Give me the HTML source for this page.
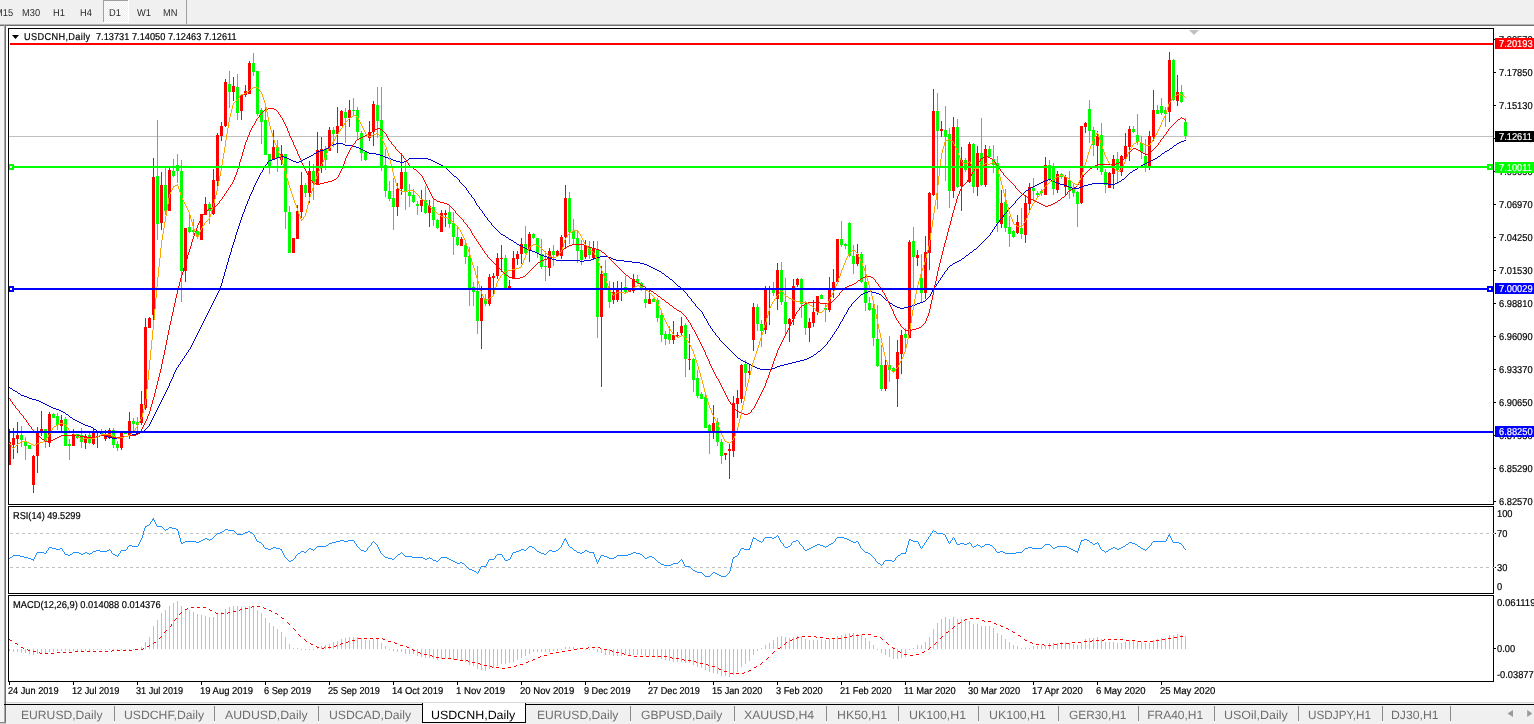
<!DOCTYPE html><html><head><meta charset="utf-8"><title>USDCNH,Daily</title><style>
html,body{margin:0;padding:0;background:#fff}
body{width:1534px;height:724px;position:relative;overflow:hidden;font-family:"Liberation Sans",sans-serif;color:#000}
.t{position:absolute;white-space:nowrap;line-height:1}
.t,.lb span{transform-origin:0 0;transform:scaleX(.92);-webkit-text-stroke:0.2px currentColor;text-rendering:geometricPrecision}
.ax{font-size:10px;left:1498.8px;transform:scaleX(.93)}
.lb{position:absolute;left:1495px;width:39px;height:11px;}
.lb span{position:absolute;left:3.8px;top:2px;font-size:10px;transform:scaleX(.93);line-height:1;color:#fff;white-space:nowrap}
.dt{font-size:10px;top:687px;transform:scaleX(.91)}
.tb{font-size:10px;top:9px;color:#2a2a2a;transform:scaleX(.93);-webkit-text-stroke:0}
.tab{font-size:12px;top:709px;color:#6e6e6e;transform:none;-webkit-text-stroke:0}
.sep{position:absolute;top:706px;width:1px;height:15px;background:#8a8a8a}
</style></head><body>
<div style="position:absolute;left:0;top:0;width:1534px;height:24px;background:#f0f0f0"></div>
<div style="position:absolute;left:0;top:24px;width:1534px;height:1px;background:#b4b4b4"></div>
<div style="position:absolute;left:0;top:25px;width:1534px;height:1px;background:#6e6e6e"></div>
<div style="position:absolute;left:0;top:26px;width:4px;height:698px;background:#f5f5f5"></div>
<div style="position:absolute;left:4px;top:25px;width:1px;height:697px;background:#a8a8a8"></div>
<div style="position:absolute;left:5px;top:25px;width:1px;height:697px;background:#6e6e6e"></div>
<div style="position:absolute;left:0;top:722px;width:6px;height:1px;background:#8c8c8c"></div>
<div style="position:absolute;left:0;top:723px;width:6px;height:1px;background:#c8c8c8"></div>
<div style="position:absolute;left:103px;top:0;width:26px;height:23px;background:#fff"></div>
<div style="position:absolute;left:103px;top:0;width:25px;height:22px;background-color:#f0f0f0;background-image:repeating-conic-gradient(#ffffff 0 25%,#ececec 0 50%);background-size:2px 2px;border-left:1px solid #a0a0a0;border-top:1px solid #a0a0a0;box-sizing:border-box"></div>
<div style="position:absolute;left:186px;top:0;width:1px;height:24px;background:#a0a0a0"></div>
<span class="t tb" style="left:-5px">M15</span>
<span class="t tb" style="left:22px">M30</span>
<span class="t tb" style="left:53px">H1</span>
<span class="t tb" style="left:80px">H4</span>
<span class="t tb" style="left:109px">D1</span>
<span class="t tb" style="left:137px">W1</span>
<span class="t tb" style="left:163px">MN</span>
<svg width="1534" height="724" viewBox="0 0 1534 724" style="position:absolute;left:0;top:0"><g shape-rendering="crispEdges"><rect x="9" y="136" width="1484" height="1" fill="#c0c0c0"/><path fill="#ff0000" d="M9 429h1v36h-1zM13 428h1v31h-1zM17 422h1v31h-1zM33 455h1v38h-1zM37 427h1v46h-1zM41 411h1v25h-1zM49 412h1v35h-1zM61 415h1v18h-1zM73 429h1v17h-1zM85 434h1v15h-1zM93 428h1v17h-1zM97 431h1v17h-1zM105 430h1v11h-1zM109 428h1v11h-1zM121 432h1v18h-1zM129 412h1v27h-1zM141 391h1v34h-1zM145 318h1v92h-1zM149 317h1v11h-1zM153 158h1v166h-1zM161 172h1v58h-1zM169 168h1v43h-1zM185 228h1v54h-1zM201 214h1v26h-1zM205 197h1v18h-1zM213 169h1v46h-1zM217 133h1v54h-1zM221 122h1v19h-1zM225 79h1v48h-1zM233 77h1v24h-1zM241 94h1v26h-1zM245 85h1v12h-1zM249 61h1v33h-1zM273 130h1v30h-1zM281 145h1v20h-1zM293 238h1v15h-1zM297 205h1v34h-1zM301 172h1v46h-1zM309 161h1v42h-1zM317 132h1v53h-1zM321 137h1v36h-1zM329 127h1v24h-1zM337 107h1v46h-1zM341 110h1v16h-1zM349 100h1v27h-1zM369 121h1v20h-1zM373 101h1v45h-1zM397 183h1v33h-1zM401 153h1v42h-1zM421 190h1v22h-1zM429 200h1v27h-1zM441 210h1v22h-1zM445 210h1v17h-1zM461 237h1v9h-1zM481 286h1v63h-1zM489 274h1v32h-1zM493 273h1v23h-1zM497 253h1v26h-1zM501 245h1v27h-1zM509 280h1v8h-1zM513 251h1v28h-1zM517 251h1v14h-1zM521 238h1v26h-1zM529 232h1v30h-1zM549 248h1v28h-1zM557 250h1v7h-1zM561 235h1v24h-1zM565 185h1v64h-1zM585 240h1v19h-1zM593 241h1v19h-1zM601 266h1v121h-1zM613 282h1v22h-1zM617 281h1v21h-1zM621 282h1v19h-1zM629 289h1v3h-1zM633 274h1v19h-1zM649 291h1v13h-1zM673 321h1v23h-1zM677 332h1v6h-1zM681 317h1v18h-1zM689 334h1v36h-1zM713 405h1v34h-1zM725 453h1v7h-1zM729 444h1v35h-1zM733 396h1v61h-1zM737 390h1v28h-1zM741 364h1v39h-1zM749 365h1v10h-1zM753 303h1v48h-1zM765 286h1v48h-1zM769 286h1v39h-1zM777 263h1v47h-1zM789 318h1v24h-1zM793 279h1v46h-1zM797 278h1v9h-1zM809 318h1v24h-1zM813 300h1v27h-1zM817 296h1v19h-1zM829 277h1v35h-1zM833 269h1v29h-1zM837 239h1v43h-1zM857 244h1v22h-1zM885 356h1v35h-1zM897 340h1v67h-1zM901 330h1v44h-1zM909 240h1v98h-1zM917 250h1v16h-1zM925 236h1v63h-1zM929 192h1v78h-1zM933 89h1v107h-1zM941 121h1v16h-1zM953 117h1v81h-1zM961 147h1v64h-1zM969 142h1v41h-1zM977 146h1v50h-1zM985 145h1v42h-1zM1001 190h1v38h-1zM1017 215h1v19h-1zM1025 195h1v48h-1zM1029 183h1v27h-1zM1045 157h1v38h-1zM1057 171h1v22h-1zM1065 175h1v20h-1zM1081 126h1v78h-1zM1085 122h1v11h-1zM1097 131h1v39h-1zM1109 172h1v16h-1zM1113 155h1v34h-1zM1121 155h1v21h-1zM1125 133h1v26h-1zM1129 126h1v35h-1zM1149 131h1v39h-1zM1153 90h1v51h-1zM1169 52h1v70h-1zM1177 75h1v31h-1zM8 442h3v23h-3zM12 438h3v7h-3zM16 435h3v4h-3zM32 456h3v29h-3zM36 432h3v24h-3zM40 429h3v3h-3zM48 414h3v29h-3zM60 420h3v6h-3zM72 434h3v12h-3zM84 436h3v7h-3zM92 433h3v11h-3zM96 432h3v1h-3zM104 434h3v5h-3zM108 430h3v6h-3zM120 432h3v16h-3zM128 421h3v14h-3zM140 404h3v19h-3zM144 327h3v81h-3zM148 318h3v10h-3zM152 177h3v138h-3zM160 185h3v38h-3zM168 170h3v41h-3zM184 228h3v43h-3zM200 214h3v26h-3zM204 204h3v11h-3zM212 180h3v34h-3zM216 135h3v46h-3zM220 126h3v10h-3zM224 82h3v44h-3zM232 86h3v6h-3zM240 95h3v16h-3zM244 91h3v4h-3zM248 63h3v31h-3zM272 147h3v12h-3zM280 154h3v6h-3zM292 238h3v15h-3zM296 211h3v28h-3zM300 185h3v27h-3zM308 171h3v22h-3zM316 150h3v35h-3zM320 149h3v18h-3zM328 130h3v21h-3zM336 126h3v8h-3zM340 111h3v15h-3zM348 110h3v8h-3zM368 132h3v6h-3zM372 104h3v28h-3zM396 189h3v18h-3zM400 172h3v17h-3zM420 200h3v6h-3zM428 206h3v7h-3zM440 213h3v19h-3zM444 213h3v2h-3zM460 239h3v7h-3zM480 298h3v23h-3zM488 277h3v27h-3zM492 276h3v2h-3zM496 258h3v18h-3zM500 258h3v1h-3zM508 286h3v2h-3zM512 258h3v21h-3zM516 254h3v5h-3zM520 244h3v10h-3zM528 234h3v16h-3zM548 251h3v17h-3zM556 251h3v5h-3zM560 237h3v19h-3zM564 198h3v39h-3zM584 246h3v11h-3zM592 249h3v9h-3zM600 274h3v43h-3zM612 292h3v8h-3zM616 290h3v10h-3zM620 288h3v2h-3zM628 290h3v2h-3zM632 279h3v12h-3zM648 299h3v5h-3zM672 335h3v5h-3zM676 335h3v1h-3zM680 326h3v7h-3zM688 359h3v1h-3zM712 423h3v9h-3zM724 453h3v2h-3zM728 449h3v2h-3zM732 403h3v48h-3zM736 398h3v6h-3zM740 365h3v34h-3zM748 371h3v2h-3zM752 307h3v33h-3zM764 289h3v41h-3zM768 289h3v1h-3zM776 270h3v29h-3zM788 319h3v5h-3zM792 286h3v33h-3zM796 279h3v6h-3zM808 322h3v6h-3zM812 312h3v11h-3zM816 296h3v16h-3zM828 290h3v20h-3zM832 282h3v8h-3zM836 239h3v43h-3zM856 254h3v10h-3zM884 365h3v24h-3zM896 352h3v27h-3zM900 335h3v19h-3zM908 242h3v96h-3zM916 255h3v3h-3zM924 252h3v41h-3zM928 193h3v60h-3zM932 111h3v84h-3zM940 129h3v2h-3zM952 127h3v64h-3zM960 160h3v26h-3zM968 144h3v38h-3zM976 153h3v34h-3zM984 149h3v36h-3zM1000 203h3v21h-3zM1016 222h3v11h-3zM1024 203h3v32h-3zM1028 187h3v17h-3zM1044 165h3v30h-3zM1056 174h3v16h-3zM1064 177h3v10h-3zM1080 126h3v77h-3zM1084 123h3v4h-3zM1096 136h3v10h-3zM1108 173h3v15h-3zM1112 159h3v15h-3zM1120 156h3v16h-3zM1124 146h3v12h-3zM1128 129h3v18h-3zM1148 136h3v30h-3zM1152 110h3v27h-3zM1168 60h3v52h-3zM1176 92h3v9h-3z"/><path fill="#00ff00" d="M21 426h1v21h-1zM25 437h1v23h-1zM29 445h1v4h-1zM45 429h1v19h-1zM53 413h1v5h-1zM57 413h1v17h-1zM65 417h1v29h-1zM69 439h1v21h-1zM77 434h1v5h-1zM81 428h1v20h-1zM89 431h1v13h-1zM101 429h1v6h-1zM113 428h1v20h-1zM117 441h1v10h-1zM125 432h1v2h-1zM133 418h1v14h-1zM137 417h1v14h-1zM157 120h1v120h-1zM165 167h1v48h-1zM173 159h1v18h-1zM177 154h1v29h-1zM181 160h1v142h-1zM189 213h1v20h-1zM193 219h1v16h-1zM197 230h1v9h-1zM209 202h1v22h-1zM229 71h1v37h-1zM237 74h1v46h-1zM253 53h1v23h-1zM257 71h1v45h-1zM261 108h1v36h-1zM265 107h1v48h-1zM269 154h1v20h-1zM277 140h1v32h-1zM285 154h1v75h-1zM289 206h1v47h-1zM305 183h1v14h-1zM313 164h1v36h-1zM325 146h1v24h-1zM333 127h1v20h-1zM345 108h1v35h-1zM353 98h1v18h-1zM357 107h1v32h-1zM361 131h1v30h-1zM365 152h1v9h-1zM377 87h1v51h-1zM381 87h1v84h-1zM385 149h1v48h-1zM389 181h1v20h-1zM393 178h1v52h-1zM405 161h1v49h-1zM409 184h1v23h-1zM413 189h1v14h-1zM417 201h1v14h-1zM425 186h1v28h-1zM433 199h1v27h-1zM437 219h1v10h-1zM449 206h1v22h-1zM453 212h1v43h-1zM457 227h1v19h-1zM465 242h1v22h-1zM469 247h1v59h-1zM473 282h1v24h-1zM477 266h1v68h-1zM485 294h1v12h-1zM505 255h1v33h-1zM525 226h1v28h-1zM533 233h1v6h-1zM537 238h1v20h-1zM541 239h1v30h-1zM545 251h1v30h-1zM553 245h1v21h-1zM569 192h1v52h-1zM573 219h1v25h-1zM577 230h1v33h-1zM581 240h1v25h-1zM589 241h1v18h-1zM597 241h1v97h-1zM605 260h1v30h-1zM609 281h1v27h-1zM625 276h1v18h-1zM637 275h1v9h-1zM641 282h1v9h-1zM645 290h1v18h-1zM653 298h1v4h-1zM657 298h1v24h-1zM661 311h1v31h-1zM665 331h1v14h-1zM669 326h1v18h-1zM685 323h1v54h-1zM693 358h1v34h-1zM697 370h1v28h-1zM701 392h1v7h-1zM705 394h1v34h-1zM709 424h1v30h-1zM717 418h1v28h-1zM721 439h1v25h-1zM745 360h1v27h-1zM757 304h1v27h-1zM761 320h1v27h-1zM773 282h1v14h-1zM781 262h1v43h-1zM785 278h1v57h-1zM801 278h1v40h-1zM805 301h1v34h-1zM821 294h1v5h-1zM825 304h1v18h-1zM841 221h1v26h-1zM845 243h1v6h-1zM849 222h1v35h-1zM853 245h1v29h-1zM861 252h1v31h-1zM865 265h1v46h-1zM869 297h1v14h-1zM873 302h1v44h-1zM877 305h1v62h-1zM881 345h1v46h-1zM889 336h1v46h-1zM893 367h1v6h-1zM905 328h1v23h-1zM913 227h1v61h-1zM921 254h1v48h-1zM937 93h1v116h-1zM945 106h1v75h-1zM949 128h1v80h-1zM957 119h1v69h-1zM965 158h1v14h-1zM973 143h1v50h-1zM981 118h1v68h-1zM989 146h1v12h-1zM993 145h1v28h-1zM997 156h1v76h-1zM1005 189h1v43h-1zM1009 216h1v31h-1zM1013 230h1v8h-1zM1021 208h1v31h-1zM1033 178h1v22h-1zM1037 191h1v7h-1zM1041 189h1v7h-1zM1049 160h1v21h-1zM1053 163h1v32h-1zM1061 173h1v6h-1zM1069 171h1v28h-1zM1073 183h1v14h-1zM1077 191h1v36h-1zM1089 100h1v43h-1zM1093 127h1v29h-1zM1101 123h1v52h-1zM1105 169h1v24h-1zM1117 152h1v32h-1zM1133 126h1v7h-1zM1137 114h1v31h-1zM1141 136h1v23h-1zM1145 139h1v33h-1zM1157 105h1v9h-1zM1161 98h1v17h-1zM1165 107h1v20h-1zM1173 59h1v42h-1zM1181 85h1v18h-1zM1185 118h1v21h-1zM20 435h3v5h-3zM24 441h3v5h-3zM28 445h3v4h-3zM44 429h3v12h-3zM52 414h3v4h-3zM56 416h3v9h-3zM64 419h3v27h-3zM68 444h3v2h-3zM76 434h3v4h-3zM80 435h3v7h-3zM88 435h3v8h-3zM100 432h3v2h-3zM112 430h3v15h-3zM116 444h3v4h-3zM124 432h3v2h-3zM132 421h3v3h-3zM136 422h3v3h-3zM156 176h3v48h-3zM164 185h3v26h-3zM172 171h3v5h-3zM176 165h3v6h-3zM180 171h3v100h-3zM188 227h3v5h-3zM192 230h3v2h-3zM196 231h3v6h-3zM208 204h3v7h-3zM228 84h3v8h-3zM236 87h3v26h-3zM252 63h3v9h-3zM256 71h3v43h-3zM260 110h3v12h-3zM264 120h3v35h-3zM268 154h3v12h-3zM276 147h3v11h-3zM284 154h3v58h-3zM288 212h3v41h-3zM304 185h3v8h-3zM312 171h3v11h-3zM324 149h3v11h-3zM332 130h3v4h-3zM344 112h3v6h-3zM352 110h3v1h-3zM356 110h3v22h-3zM360 133h3v20h-3zM364 152h3v8h-3zM376 105h3v16h-3zM380 120h3v46h-3zM384 165h3v26h-3zM388 191h3v8h-3zM392 198h3v9h-3zM404 172h3v20h-3zM408 192h3v4h-3zM412 195h3v7h-3zM416 204h3v2h-3zM424 200h3v13h-3zM432 207h3v13h-3zM436 220h3v8h-3zM448 212h3v12h-3zM452 223h3v14h-3zM456 237h3v8h-3zM464 245h3v12h-3zM468 256h3v34h-3zM472 287h3v5h-3zM476 291h3v30h-3zM484 299h3v5h-3zM504 258h3v30h-3zM524 244h3v9h-3zM532 234h3v4h-3zM536 238h3v15h-3zM540 254h3v13h-3zM544 266h3v1h-3zM552 251h3v4h-3zM568 198h3v34h-3zM572 231h3v8h-3zM576 238h3v13h-3zM580 250h3v10h-3zM588 247h3v8h-3zM596 249h3v68h-3zM604 273h3v15h-3zM608 288h3v14h-3zM624 287h3v5h-3zM636 279h3v4h-3zM640 283h3v5h-3zM644 299h3v4h-3zM652 299h3v3h-3zM656 300h3v18h-3zM660 315h3v20h-3zM664 334h3v5h-3zM668 334h3v6h-3zM684 325h3v34h-3zM692 359h3v21h-3zM696 378h3v18h-3zM700 394h3v5h-3zM704 397h3v31h-3zM708 425h3v6h-3zM716 422h3v20h-3zM720 442h3v14h-3zM744 364h3v9h-3zM756 307h3v17h-3zM760 324h3v7h-3zM772 289h3v4h-3zM780 270h3v32h-3zM784 302h3v22h-3zM800 279h3v25h-3zM804 304h3v24h-3zM820 295h3v4h-3zM824 308h3v2h-3zM840 239h3v6h-3zM844 244h3v2h-3zM848 223h3v33h-3zM852 256h3v8h-3zM860 254h3v28h-3zM864 282h3v21h-3zM868 303h3v7h-3zM872 308h3v30h-3zM876 339h3v27h-3zM880 365h3v24h-3zM888 365h3v5h-3zM892 368h3v4h-3zM904 334h3v4h-3zM912 241h3v16h-3zM920 278h3v15h-3zM936 111h3v20h-3zM944 130h3v7h-3zM948 134h3v57h-3zM956 127h3v60h-3zM964 160h3v10h-3zM972 144h3v43h-3zM980 153h3v32h-3zM988 149h3v8h-3zM992 159h3v6h-3zM996 163h3v60h-3zM1004 202h3v26h-3zM1008 227h3v7h-3zM1012 231h3v6h-3zM1020 228h3v6h-3zM1032 188h3v3h-3zM1036 193h3v2h-3zM1040 191h3v2h-3zM1048 165h3v15h-3zM1052 167h3v22h-3zM1060 174h3v3h-3zM1068 180h3v10h-3zM1072 188h3v5h-3zM1076 192h3v12h-3zM1088 109h3v22h-3zM1092 130h3v15h-3zM1100 135h3v37h-3zM1104 172h3v13h-3zM1116 159h3v11h-3zM1132 129h3v3h-3zM1136 135h3v7h-3zM1140 143h3v9h-3zM1144 156h3v10h-3zM1156 110h3v4h-3zM1160 106h3v7h-3zM1164 110h3v4h-3zM1172 60h3v40h-3zM1180 92h3v10h-3zM1184 122h3v14h-3z"/></g><g shape-rendering="crispEdges"><path fill="#0000cd" d="M1184 140h2v1h-2zM1181 141h3v1h-3zM1179 142h2v1h-2zM336 143h7v1h-7zM1177 143h2v1h-2zM333 144h3v1h-3zM343 144h2v1h-2zM1176 144h1v1h-1zM331 145h2v1h-2zM345 145h7v1h-7zM1174 145h2v1h-2zM329 146h2v1h-2zM352 146h4v1h-4zM1173 146h1v1h-1zM328 147h1v1h-1zM356 147h3v1h-3zM1172 147h1v1h-1zM326 148h2v1h-2zM359 148h2v1h-2zM1170 148h2v1h-2zM324 149h2v1h-2zM361 149h2v1h-2zM1169 149h1v1h-1zM320 150h4v1h-4zM363 150h2v1h-2zM1167 150h2v1h-2zM317 151h3v1h-3zM365 151h2v1h-2zM1165 151h2v1h-2zM316 152h1v1h-1zM367 152h2v1h-2zM1164 152h1v1h-1zM314 153h2v1h-2zM369 153h7v1h-7zM1162 153h2v1h-2zM313 154h1v1h-1zM376 154h4v1h-4zM1161 154h1v1h-1zM311 155h2v1h-2zM380 155h3v1h-3zM1160 155h1v1h-1zM280 156h4v1h-4zM309 156h2v1h-2zM383 156h2v1h-2zM1158 156h2v1h-2zM277 157h3v1h-3zM284 157h3v1h-3zM307 157h2v1h-2zM385 157h3v1h-3zM1157 157h1v1h-1zM275 158h2v1h-2zM287 158h2v1h-2zM305 158h2v1h-2zM388 158h3v1h-3zM409 158h19v1h-19zM1155 158h2v1h-2zM272 159h3v1h-3zM289 159h2v1h-2zM303 159h2v1h-2zM391 159h2v1h-2zM408 159h1v1h-1zM428 159h3v1h-3zM1153 159h2v1h-2zM269 160h3v1h-3zM291 160h2v1h-2zM301 160h2v1h-2zM393 160h3v1h-3zM406 160h2v1h-2zM431 160h2v1h-2zM1151 160h2v1h-2zM268 161h1v1h-1zM293 161h3v1h-3zM299 161h2v1h-2zM396 161h4v1h-4zM404 161h2v1h-2zM433 161h2v1h-2zM1149 161h2v1h-2zM267 162h1v2h-1zM296 162h3v1h-3zM400 162h4v1h-4zM435 162h2v1h-2zM1147 162h2v1h-2zM437 163h2v1h-2zM1145 163h2v1h-2zM266 164h1v1h-1zM439 164h2v1h-2zM1143 164h2v1h-2zM265 165h1v1h-1zM441 165h2v1h-2zM1141 165h2v1h-2zM264 166h1v2h-1zM443 166h2v1h-2zM1140 166h1v1h-1zM445 167h1v1h-1zM1138 167h2v1h-2zM263 168h1v2h-1zM446 168h1v1h-1zM1137 168h1v1h-1zM447 169h1v1h-1zM1135 169h2v1h-2zM262 170h1v2h-1zM448 170h1v1h-1zM1133 170h2v1h-2zM449 171h1v1h-1zM1132 171h1v1h-1zM261 172h1v1h-1zM450 172h1v1h-1zM1130 172h2v1h-2zM260 173h1v2h-1zM451 173h1v1h-1zM1129 173h1v1h-1zM452 174h1v1h-1zM1128 174h1v1h-1zM259 175h1v2h-1zM453 175h1v1h-1zM1127 175h1v1h-1zM454 176h2v1h-2zM1126 176h1v1h-1zM258 177h1v2h-1zM456 177h1v1h-1zM1125 177h1v1h-1zM457 178h1v1h-1zM1124 178h1v1h-1zM257 179h1v2h-1zM458 179h1v1h-1zM1048 179h3v1h-3zM1122 179h2v1h-2zM459 180h1v2h-1zM1045 180h3v1h-3zM1051 180h2v1h-2zM1121 180h1v1h-1zM256 181h1v2h-1zM1043 181h2v1h-2zM1053 181h2v1h-2zM1119 181h2v1h-2zM460 182h1v1h-1zM1041 182h2v1h-2zM1055 182h2v1h-2zM1117 182h2v1h-2zM255 183h1v2h-1zM461 183h1v1h-1zM1039 183h2v1h-2zM1057 183h3v1h-3zM1092 183h16v1h-16zM1115 183h2v1h-2zM462 184h1v1h-1zM1037 184h2v1h-2zM1060 184h4v1h-4zM1088 184h4v1h-4zM1108 184h7v1h-7zM254 185h1v2h-1zM463 185h1v1h-1zM1035 185h2v1h-2zM1064 185h3v1h-3zM1084 185h4v1h-4zM464 186h1v1h-1zM1033 186h2v1h-2zM1067 186h2v1h-2zM1081 186h3v1h-3zM253 187h1v3h-1zM465 187h1v1h-1zM1031 187h2v1h-2zM1069 187h3v1h-3zM1079 187h2v1h-2zM466 188h1v2h-1zM1029 188h2v1h-2zM1072 188h7v1h-7zM1028 189h1v1h-1zM252 190h1v2h-1zM467 190h1v1h-1zM1026 190h2v1h-2zM468 191h1v2h-1zM1025 191h1v1h-1zM251 192h1v2h-1zM1024 192h1v1h-1zM469 193h1v1h-1zM1023 193h1v1h-1zM250 194h1v2h-1zM470 194h1v1h-1zM1022 194h1v1h-1zM471 195h1v2h-1zM1021 195h1v1h-1zM249 196h1v3h-1zM1020 196h1v1h-1zM472 197h1v1h-1zM1019 197h1v1h-1zM473 198h1v1h-1zM1018 198h1v1h-1zM248 199h1v2h-1zM474 199h1v2h-1zM1017 199h1v1h-1zM1016 200h1v1h-1zM247 201h1v3h-1zM475 201h1v2h-1zM1015 201h1v2h-1zM476 203h1v2h-1zM1014 203h1v1h-1zM246 204h1v2h-1zM1013 204h1v1h-1zM477 205h1v1h-1zM1012 205h1v1h-1zM245 206h1v3h-1zM478 206h1v1h-1zM1011 206h1v1h-1zM479 207h1v2h-1zM1010 207h1v1h-1zM1009 208h1v1h-1zM244 209h1v3h-1zM480 209h1v1h-1zM1008 209h1v1h-1zM481 210h1v1h-1zM1007 210h1v2h-1zM482 211h1v2h-1zM243 212h1v2h-1zM1006 212h1v1h-1zM483 213h1v1h-1zM1005 213h1v1h-1zM242 214h1v3h-1zM484 214h1v2h-1zM1004 214h1v1h-1zM1003 215h1v2h-1zM485 216h1v1h-1zM241 217h1v3h-1zM486 217h1v1h-1zM1002 217h1v1h-1zM487 218h1v2h-1zM1001 218h1v1h-1zM1000 219h1v1h-1zM240 220h1v3h-1zM488 220h1v1h-1zM999 220h1v2h-1zM489 221h1v1h-1zM490 222h1v1h-1zM998 222h1v1h-1zM239 223h1v3h-1zM491 223h1v2h-1zM997 223h1v1h-1zM996 224h1v2h-1zM492 225h1v1h-1zM238 226h1v3h-1zM493 226h1v1h-1zM995 226h1v1h-1zM494 227h1v1h-1zM994 227h1v2h-1zM495 228h1v1h-1zM237 229h1v3h-1zM496 229h1v1h-1zM993 229h1v1h-1zM497 230h1v1h-1zM992 230h1v2h-1zM498 231h1v1h-1zM236 232h1v3h-1zM499 232h1v1h-1zM991 232h1v1h-1zM500 233h1v1h-1zM990 233h1v2h-1zM501 234h2v1h-2zM235 235h1v4h-1zM503 235h2v1h-2zM989 235h1v1h-1zM505 236h1v1h-1zM988 236h1v1h-1zM506 237h2v1h-2zM987 237h1v1h-1zM508 238h1v1h-1zM986 238h1v1h-1zM234 239h1v3h-1zM509 239h2v1h-2zM985 239h1v1h-1zM511 240h2v1h-2zM984 240h1v1h-1zM513 241h1v1h-1zM983 241h1v1h-1zM233 242h1v3h-1zM514 242h2v1h-2zM982 242h1v1h-1zM516 243h1v1h-1zM981 243h1v1h-1zM517 244h2v1h-2zM980 244h1v1h-1zM232 245h1v3h-1zM519 245h2v1h-2zM979 245h1v1h-1zM521 246h2v1h-2zM978 246h1v1h-1zM523 247h2v1h-2zM977 247h1v1h-1zM231 248h1v4h-1zM525 248h2v1h-2zM976 248h1v1h-1zM527 249h2v1h-2zM974 249h2v1h-2zM529 250h3v1h-3zM973 250h1v1h-1zM532 251h3v1h-3zM972 251h1v1h-1zM230 252h1v3h-1zM535 252h2v1h-2zM970 252h2v1h-2zM537 253h2v1h-2zM969 253h1v1h-1zM539 254h2v1h-2zM968 254h1v1h-1zM229 255h1v3h-1zM541 255h3v1h-3zM966 255h2v1h-2zM544 256h3v1h-3zM600 256h8v1h-8zM965 256h1v1h-1zM547 257h2v1h-2zM596 257h4v1h-4zM608 257h3v1h-3zM964 257h1v1h-1zM228 258h1v4h-1zM549 258h3v1h-3zM593 258h3v1h-3zM611 258h2v1h-2zM962 258h2v1h-2zM552 259h4v1h-4zM591 259h2v1h-2zM613 259h3v1h-3zM961 259h1v1h-1zM556 260h24v1h-24zM584 260h7v1h-7zM616 260h8v1h-8zM959 260h2v1h-2zM580 261h4v1h-4zM624 261h8v1h-8zM957 261h2v1h-2zM227 262h1v3h-1zM632 262h8v1h-8zM955 262h2v1h-2zM640 263h4v1h-4zM953 263h2v1h-2zM644 264h3v1h-3zM952 264h1v1h-1zM226 265h1v4h-1zM647 265h2v1h-2zM950 265h2v1h-2zM649 266h2v1h-2zM949 266h1v1h-1zM651 267h2v1h-2zM948 267h1v1h-1zM653 268h2v1h-2zM947 268h1v2h-1zM225 269h1v3h-1zM655 269h2v1h-2zM657 270h2v1h-2zM946 270h1v1h-1zM659 271h2v1h-2zM945 271h1v1h-1zM224 272h1v4h-1zM661 272h1v1h-1zM944 272h1v2h-1zM662 273h2v1h-2zM664 274h1v1h-1zM943 274h1v1h-1zM665 275h1v1h-1zM942 275h1v2h-1zM223 276h1v3h-1zM666 276h2v1h-2zM668 277h1v1h-1zM941 277h1v1h-1zM669 278h1v1h-1zM940 278h1v2h-1zM222 279h1v4h-1zM670 279h2v1h-2zM672 280h1v1h-1zM939 280h1v1h-1zM673 281h1v1h-1zM938 281h1v2h-1zM674 282h1v1h-1zM221 283h1v3h-1zM675 283h1v1h-1zM937 283h1v1h-1zM676 284h1v1h-1zM936 284h1v2h-1zM677 285h1v1h-1zM220 286h1v2h-1zM678 286h2v1h-2zM935 286h1v1h-1zM680 287h1v1h-1zM934 287h1v2h-1zM219 288h1v3h-1zM681 288h1v1h-1zM682 289h1v1h-1zM933 289h1v1h-1zM683 290h1v1h-1zM932 290h1v2h-1zM218 291h1v2h-1zM684 291h1v1h-1zM868 291h4v1h-4zM685 292h1v1h-1zM865 292h3v1h-3zM872 292h4v1h-4zM931 292h1v2h-1zM217 293h1v2h-1zM686 293h1v1h-1zM863 293h2v1h-2zM876 293h3v1h-3zM687 294h1v2h-1zM861 294h2v1h-2zM879 294h2v1h-2zM930 294h1v2h-1zM216 295h1v2h-1zM860 295h1v1h-1zM881 295h1v1h-1zM688 296h1v1h-1zM859 296h1v1h-1zM882 296h1v1h-1zM929 296h1v1h-1zM215 297h1v2h-1zM689 297h1v1h-1zM858 297h1v1h-1zM883 297h1v1h-1zM928 297h1v1h-1zM690 298h1v1h-1zM857 298h1v1h-1zM884 298h1v1h-1zM927 298h1v1h-1zM214 299h1v2h-1zM691 299h1v2h-1zM856 299h1v1h-1zM885 299h1v1h-1zM926 299h1v1h-1zM855 300h1v1h-1zM886 300h2v1h-2zM925 300h1v1h-1zM213 301h1v2h-1zM692 301h1v1h-1zM854 301h1v1h-1zM888 301h1v1h-1zM923 301h2v1h-2zM693 302h1v1h-1zM853 302h1v1h-1zM889 302h1v1h-1zM920 302h3v1h-3zM212 303h1v2h-1zM694 303h1v1h-1zM852 303h1v1h-1zM890 303h2v1h-2zM917 303h3v1h-3zM695 304h1v2h-1zM851 304h1v2h-1zM892 304h1v1h-1zM915 304h2v1h-2zM211 305h1v2h-1zM893 305h2v1h-2zM912 305h3v1h-3zM696 306h1v1h-1zM850 306h1v1h-1zM895 306h2v1h-2zM908 306h4v1h-4zM210 307h1v2h-1zM697 307h1v1h-1zM849 307h1v1h-1zM897 307h3v1h-3zM904 307h4v1h-4zM698 308h1v1h-1zM848 308h1v2h-1zM900 308h4v1h-4zM209 309h1v2h-1zM699 309h1v1h-1zM700 310h1v1h-1zM847 310h1v2h-1zM208 311h1v2h-1zM701 311h1v1h-1zM702 312h1v2h-1zM846 312h1v2h-1zM207 313h1v2h-1zM703 314h1v2h-1zM845 314h1v1h-1zM206 315h1v2h-1zM844 315h1v2h-1zM704 316h1v2h-1zM205 317h1v2h-1zM843 317h1v2h-1zM705 318h1v1h-1zM204 319h1v2h-1zM706 319h1v2h-1zM842 319h1v2h-1zM203 321h1v2h-1zM707 321h1v2h-1zM841 321h1v1h-1zM840 322h1v2h-1zM202 323h1v2h-1zM708 323h1v2h-1zM839 324h1v2h-1zM201 325h1v2h-1zM709 325h1v1h-1zM710 326h1v2h-1zM838 326h1v2h-1zM200 327h1v2h-1zM711 328h1v1h-1zM837 328h1v1h-1zM199 329h1v2h-1zM712 329h1v2h-1zM836 329h1v2h-1zM198 331h1v2h-1zM713 331h1v1h-1zM835 331h1v1h-1zM714 332h1v1h-1zM834 332h1v2h-1zM197 333h1v2h-1zM715 333h1v2h-1zM833 334h1v1h-1zM196 335h1v2h-1zM716 335h1v1h-1zM832 335h1v2h-1zM717 336h1v1h-1zM195 337h1v2h-1zM718 337h1v1h-1zM831 337h1v1h-1zM719 338h1v2h-1zM830 338h1v2h-1zM194 339h1v2h-1zM720 340h1v1h-1zM829 340h1v1h-1zM193 341h1v2h-1zM721 341h1v1h-1zM828 341h1v1h-1zM722 342h1v1h-1zM827 342h1v2h-1zM192 343h1v2h-1zM723 343h1v1h-1zM724 344h1v1h-1zM826 344h1v1h-1zM191 345h1v2h-1zM725 345h1v1h-1zM825 345h1v1h-1zM726 346h1v1h-1zM824 346h1v1h-1zM190 347h1v2h-1zM727 347h1v1h-1zM823 347h1v1h-1zM728 348h1v1h-1zM822 348h1v1h-1zM189 349h1v1h-1zM729 349h1v1h-1zM821 349h1v1h-1zM188 350h1v2h-1zM730 350h1v1h-1zM820 350h1v1h-1zM731 351h1v1h-1zM818 351h2v1h-2zM187 352h1v1h-1zM732 352h1v1h-1zM817 352h1v1h-1zM186 353h1v2h-1zM733 353h1v1h-1zM816 353h1v1h-1zM734 354h1v1h-1zM814 354h2v1h-2zM185 355h1v1h-1zM735 355h1v1h-1zM813 355h1v1h-1zM184 356h1v2h-1zM736 356h1v1h-1zM811 356h2v1h-2zM737 357h1v1h-1zM809 357h2v1h-2zM183 358h1v1h-1zM738 358h2v1h-2zM807 358h2v1h-2zM182 359h1v2h-1zM740 359h1v1h-1zM804 359h3v1h-3zM741 360h2v1h-2zM800 360h4v1h-4zM181 361h1v1h-1zM743 361h2v1h-2zM796 361h4v1h-4zM180 362h1v2h-1zM745 362h2v1h-2zM792 362h4v1h-4zM747 363h2v1h-2zM788 363h4v1h-4zM179 364h1v1h-1zM749 364h2v1h-2zM784 364h4v1h-4zM178 365h1v2h-1zM751 365h2v1h-2zM780 365h4v1h-4zM753 366h2v1h-2zM777 366h3v1h-3zM177 367h1v1h-1zM755 367h2v1h-2zM775 367h2v1h-2zM176 368h1v2h-1zM757 368h3v1h-3zM772 368h3v1h-3zM760 369h12v1h-12zM175 370h1v2h-1zM174 372h1v2h-1zM173 374h1v3h-1zM172 377h1v2h-1zM171 379h1v2h-1zM170 381h1v2h-1zM169 383h1v3h-1zM168 386h1v2h-1zM9 387h1v1h-1zM10 388h2v1h-2zM167 388h1v2h-1zM12 389h1v1h-1zM13 390h2v1h-2zM166 390h1v2h-1zM15 391h2v1h-2zM17 392h1v1h-1zM165 392h1v2h-1zM18 393h2v1h-2zM20 394h1v1h-1zM164 394h1v2h-1zM21 395h3v1h-3zM24 396h3v1h-3zM163 396h1v2h-1zM27 397h2v1h-2zM29 398h3v1h-3zM162 398h1v2h-1zM32 399h4v1h-4zM36 400h3v1h-3zM161 400h1v2h-1zM39 401h2v1h-2zM41 402h2v1h-2zM160 402h1v2h-1zM43 403h2v1h-2zM45 404h2v1h-2zM159 404h1v2h-1zM47 405h2v1h-2zM49 406h2v1h-2zM158 406h1v2h-1zM51 407h2v1h-2zM53 408h3v1h-3zM157 408h1v2h-1zM56 409h3v1h-3zM59 410h2v1h-2zM156 410h1v2h-1zM61 411h2v1h-2zM63 412h2v1h-2zM155 412h1v2h-1zM65 413h1v1h-1zM66 414h2v1h-2zM154 414h1v2h-1zM68 415h1v1h-1zM69 416h1v1h-1zM153 416h1v2h-1zM70 417h2v1h-2zM72 418h1v1h-1zM152 418h1v2h-1zM73 419h2v1h-2zM75 420h2v1h-2zM151 420h1v2h-1zM77 421h2v1h-2zM79 422h2v1h-2zM150 422h1v2h-1zM81 423h2v1h-2zM83 424h2v1h-2zM149 424h1v2h-1zM85 425h3v1h-3zM88 426h3v1h-3zM148 426h1v1h-1zM91 427h2v1h-2zM147 427h1v1h-1zM93 428h1v1h-1zM146 428h1v1h-1zM94 429h2v1h-2zM145 429h1v1h-1zM96 430h1v1h-1zM144 430h1v1h-1zM97 431h1v1h-1zM142 431h2v1h-2zM98 432h2v1h-2zM140 432h2v1h-2zM100 433h1v1h-1zM136 433h4v1h-4zM101 434h2v1h-2zM132 434h4v1h-4zM103 435h2v1h-2zM128 435h4v1h-4zM105 436h3v1h-3zM124 436h4v1h-4zM108 437h4v1h-4zM120 437h4v1h-4zM112 438h8v1h-8z"/><path fill="#ff0000" d="M268 108h6v1h-6zM265 109h3v1h-3zM274 109h2v1h-2zM264 110h1v1h-1zM276 110h1v1h-1zM263 111h1v1h-1zM277 111h1v1h-1zM262 112h1v1h-1zM278 112h1v2h-1zM261 113h1v1h-1zM260 114h1v1h-1zM279 114h1v1h-1zM259 115h1v2h-1zM280 115h1v2h-1zM258 117h1v1h-1zM281 117h1v1h-1zM1181 117h1v1h-1zM257 118h1v1h-1zM282 118h1v2h-1zM1180 118h1v1h-1zM1182 118h2v1h-2zM256 119h1v2h-1zM1178 119h2v1h-2zM1184 119h1v1h-1zM283 120h1v2h-1zM1177 120h1v1h-1zM1185 120h1v1h-1zM255 121h1v2h-1zM1176 121h1v1h-1zM284 122h1v2h-1zM1175 122h1v1h-1zM254 123h1v2h-1zM1174 123h1v1h-1zM285 124h1v2h-1zM1173 124h1v1h-1zM253 125h1v1h-1zM1172 125h1v1h-1zM252 126h1v2h-1zM286 126h1v2h-1zM1171 126h1v1h-1zM1170 127h1v1h-1zM251 128h1v2h-1zM287 128h1v3h-1zM377 128h3v1h-3zM1169 128h1v1h-1zM375 129h2v1h-2zM380 129h2v1h-2zM1168 129h1v2h-1zM250 130h1v2h-1zM373 130h2v1h-2zM382 130h1v1h-1zM288 131h1v2h-1zM372 131h1v1h-1zM383 131h1v1h-1zM1167 131h1v1h-1zM249 132h1v3h-1zM370 132h2v1h-2zM384 132h1v1h-1zM1166 132h1v2h-1zM289 133h1v3h-1zM369 133h1v1h-1zM385 133h1v1h-1zM367 134h2v1h-2zM386 134h1v2h-1zM1165 134h1v1h-1zM248 135h1v2h-1zM365 135h2v1h-2zM1164 135h1v1h-1zM290 136h1v2h-1zM363 136h2v1h-2zM387 136h1v2h-1zM1163 136h1v2h-1zM247 137h1v3h-1zM361 137h2v1h-2zM291 138h1v2h-1zM359 138h2v1h-2zM388 138h1v2h-1zM1162 138h1v1h-1zM357 139h2v1h-2zM1161 139h1v1h-1zM246 140h1v2h-1zM292 140h1v2h-1zM356 140h1v1h-1zM389 140h1v1h-1zM1160 140h1v2h-1zM355 141h1v2h-1zM390 141h1v1h-1zM245 142h1v3h-1zM293 142h1v3h-1zM391 142h1v2h-1zM1159 142h1v1h-1zM354 143h1v1h-1zM1158 143h1v2h-1zM353 144h1v1h-1zM392 144h1v1h-1zM244 145h1v4h-1zM294 145h1v2h-1zM352 145h1v2h-1zM393 145h1v1h-1zM1157 145h1v1h-1zM394 146h1v1h-1zM1156 146h1v1h-1zM295 147h1v2h-1zM351 147h1v1h-1zM395 147h1v2h-1zM1155 147h1v1h-1zM350 148h1v2h-1zM1133 148h3v1h-3zM1154 148h1v1h-1zM243 149h1v3h-1zM296 149h1v2h-1zM396 149h1v1h-1zM1132 149h1v1h-1zM1136 149h2v1h-2zM1153 149h1v1h-1zM349 150h1v2h-1zM397 150h1v1h-1zM1131 150h1v1h-1zM1138 150h2v1h-2zM1152 150h1v1h-1zM297 151h1v3h-1zM398 151h1v1h-1zM1130 151h1v1h-1zM1140 151h1v1h-1zM1151 151h1v1h-1zM242 152h1v4h-1zM348 152h1v2h-1zM399 152h1v1h-1zM1129 152h1v1h-1zM1141 152h2v1h-2zM1150 152h1v1h-1zM400 153h1v1h-1zM1128 153h1v1h-1zM1143 153h2v1h-2zM1148 153h2v1h-2zM298 154h1v2h-1zM347 154h1v2h-1zM401 154h1v1h-1zM1127 154h1v2h-1zM1145 154h3v1h-3zM402 155h1v1h-1zM241 156h1v3h-1zM299 156h1v2h-1zM346 156h1v2h-1zM403 156h1v2h-1zM985 156h3v1h-3zM1126 156h1v1h-1zM983 157h2v1h-2zM988 157h2v1h-2zM1125 157h1v1h-1zM300 158h1v2h-1zM345 158h1v3h-1zM404 158h1v1h-1zM981 158h2v1h-2zM990 158h2v1h-2zM1124 158h1v1h-1zM240 159h1v3h-1zM405 159h1v1h-1zM980 159h1v2h-1zM992 159h1v1h-1zM1123 159h1v1h-1zM301 160h1v3h-1zM406 160h1v2h-1zM993 160h1v1h-1zM1122 160h1v1h-1zM344 161h1v3h-1zM979 161h1v1h-1zM994 161h1v1h-1zM1121 161h1v1h-1zM239 162h1v4h-1zM407 162h1v1h-1zM978 162h1v2h-1zM995 162h1v2h-1zM1119 162h2v1h-2zM302 163h1v2h-1zM408 163h1v2h-1zM1116 163h3v1h-3zM343 164h1v2h-1zM977 164h1v1h-1zM996 164h1v1h-1zM1097 164h19v1h-19zM303 165h1v2h-1zM409 165h1v1h-1zM976 165h1v2h-1zM997 165h1v1h-1zM1095 165h2v1h-2zM238 166h1v3h-1zM342 166h1v3h-1zM410 166h2v1h-2zM998 166h1v2h-1zM1093 166h2v1h-2zM304 167h1v2h-1zM412 167h1v1h-1zM975 167h1v2h-1zM1092 167h1v1h-1zM413 168h1v1h-1zM999 168h1v1h-1zM1090 168h2v1h-2zM237 169h1v3h-1zM305 169h1v2h-1zM341 169h1v2h-1zM414 169h2v1h-2zM974 169h1v2h-1zM1000 169h1v2h-1zM1089 169h1v1h-1zM416 170h1v1h-1zM1088 170h1v1h-1zM306 171h1v2h-1zM340 171h1v2h-1zM417 171h1v1h-1zM973 171h1v1h-1zM1001 171h1v1h-1zM1087 171h1v1h-1zM236 172h1v3h-1zM418 172h1v1h-1zM972 172h1v2h-1zM1002 172h1v1h-1zM1086 172h1v1h-1zM307 173h1v2h-1zM339 173h1v2h-1zM419 173h1v1h-1zM1003 173h1v2h-1zM1085 173h1v1h-1zM420 174h1v1h-1zM971 174h1v2h-1zM1084 174h1v1h-1zM235 175h1v2h-1zM308 175h1v2h-1zM338 175h1v2h-1zM421 175h1v1h-1zM1004 175h1v1h-1zM1083 175h1v2h-1zM422 176h1v2h-1zM970 176h1v2h-1zM1005 176h1v1h-1zM234 177h1v3h-1zM309 177h1v1h-1zM337 177h1v1h-1zM1006 177h1v1h-1zM1082 177h1v1h-1zM310 178h1v2h-1zM336 178h1v1h-1zM423 178h1v2h-1zM969 178h1v1h-1zM1007 178h1v1h-1zM1081 178h1v1h-1zM334 179h2v1h-2zM968 179h1v1h-1zM1008 179h1v1h-1zM1080 179h1v2h-1zM233 180h1v2h-1zM311 180h1v1h-1zM332 180h2v1h-2zM424 180h1v2h-1zM967 180h1v2h-1zM1009 180h1v1h-1zM312 181h1v2h-1zM328 181h4v1h-4zM1010 181h1v1h-1zM1079 181h1v2h-1zM232 182h1v2h-1zM324 182h4v1h-4zM425 182h1v2h-1zM966 182h1v1h-1zM1011 182h1v1h-1zM313 183h3v1h-3zM320 183h4v1h-4zM965 183h1v1h-1zM1012 183h1v1h-1zM1078 183h1v2h-1zM231 184h1v1h-1zM316 184h4v1h-4zM426 184h1v2h-1zM964 184h1v1h-1zM1013 184h1v1h-1zM230 185h1v2h-1zM963 185h1v1h-1zM1014 185h1v1h-1zM1077 185h1v1h-1zM427 186h1v2h-1zM962 186h1v1h-1zM1015 186h1v2h-1zM1076 186h1v1h-1zM229 187h1v1h-1zM961 187h1v2h-1zM1074 187h2v1h-2zM228 188h1v2h-1zM428 188h1v2h-1zM1016 188h1v1h-1zM1073 188h1v1h-1zM960 189h1v2h-1zM1017 189h1v1h-1zM1071 189h2v1h-2zM227 190h1v1h-1zM429 190h1v2h-1zM1018 190h1v1h-1zM1069 190h2v1h-2zM226 191h1v2h-1zM959 191h1v3h-1zM1019 191h1v1h-1zM1068 191h1v1h-1zM430 192h1v2h-1zM1020 192h1v1h-1zM1067 192h1v2h-1zM225 193h1v1h-1zM1021 193h1v1h-1zM224 194h1v2h-1zM431 194h1v2h-1zM958 194h1v2h-1zM1022 194h2v1h-2zM1066 194h1v1h-1zM1024 195h1v1h-1zM1065 195h1v1h-1zM223 196h1v1h-1zM432 196h1v2h-1zM957 196h1v3h-1zM1025 196h2v1h-2zM1064 196h1v1h-1zM222 197h1v2h-1zM1027 197h2v1h-2zM1062 197h2v1h-2zM433 198h1v1h-1zM1029 198h2v1h-2zM1061 198h1v1h-1zM221 199h1v1h-1zM434 199h2v1h-2zM956 199h1v4h-1zM1031 199h2v1h-2zM1060 199h1v1h-1zM220 200h1v1h-1zM436 200h1v1h-1zM1033 200h2v1h-2zM1058 200h2v1h-2zM219 201h1v2h-1zM437 201h3v1h-3zM1035 201h2v1h-2zM1057 201h1v1h-1zM440 202h4v1h-4zM1037 202h2v1h-2zM1055 202h2v1h-2zM218 203h1v1h-1zM444 203h3v1h-3zM955 203h1v3h-1zM1039 203h2v1h-2zM1053 203h2v1h-2zM217 204h1v1h-1zM447 204h2v1h-2zM1041 204h2v1h-2zM1051 204h2v1h-2zM216 205h1v1h-1zM449 205h1v1h-1zM1043 205h2v1h-2zM1048 205h3v1h-3zM214 206h2v1h-2zM450 206h1v1h-1zM954 206h1v4h-1zM1045 206h3v1h-3zM212 207h2v1h-2zM451 207h1v1h-1zM209 208h3v1h-3zM452 208h1v1h-1zM208 209h1v1h-1zM453 209h1v1h-1zM206 210h2v1h-2zM454 210h1v1h-1zM953 210h1v3h-1zM205 211h1v1h-1zM455 211h1v2h-1zM204 212h1v2h-1zM456 213h1v1h-1zM952 213h1v4h-1zM203 214h1v1h-1zM457 214h1v1h-1zM202 215h1v2h-1zM458 215h1v1h-1zM459 216h1v1h-1zM201 217h1v2h-1zM460 217h1v1h-1zM951 217h1v4h-1zM461 218h1v1h-1zM200 219h1v2h-1zM462 219h1v1h-1zM463 220h1v2h-1zM199 221h1v2h-1zM950 221h1v4h-1zM464 222h1v1h-1zM198 223h1v2h-1zM465 223h1v1h-1zM466 224h1v1h-1zM197 225h1v3h-1zM467 225h1v2h-1zM949 225h1v3h-1zM468 227h1v1h-1zM196 228h1v3h-1zM469 228h1v1h-1zM948 228h1v4h-1zM470 229h1v2h-1zM195 231h1v2h-1zM471 231h1v2h-1zM947 232h1v4h-1zM194 233h1v3h-1zM472 233h1v2h-1zM473 235h1v1h-1zM193 236h1v3h-1zM474 236h1v2h-1zM946 236h1v4h-1zM475 238h1v1h-1zM192 239h1v3h-1zM476 239h1v2h-1zM945 240h1v3h-1zM477 241h1v1h-1zM191 242h1v4h-1zM478 242h1v2h-1zM944 243h1v4h-1zM479 244h1v1h-1zM572 244h12v1h-12zM480 245h1v2h-1zM569 245h3v1h-3zM584 245h3v1h-3zM190 246h1v3h-1zM567 246h2v1h-2zM587 246h2v1h-2zM481 247h1v1h-1zM565 247h2v1h-2zM589 247h3v1h-3zM943 247h1v4h-1zM482 248h1v2h-1zM564 248h1v1h-1zM592 248h4v1h-4zM189 249h1v3h-1zM563 249h1v1h-1zM596 249h3v1h-3zM483 250h1v1h-1zM562 250h1v1h-1zM599 250h2v1h-2zM484 251h1v2h-1zM561 251h1v1h-1zM601 251h1v1h-1zM942 251h1v4h-1zM188 252h1v3h-1zM560 252h1v1h-1zM602 252h2v1h-2zM485 253h1v1h-1zM559 253h1v2h-1zM604 253h1v1h-1zM486 254h1v1h-1zM605 254h1v1h-1zM187 255h1v4h-1zM487 255h1v2h-1zM558 255h1v1h-1zM606 255h1v1h-1zM941 255h1v4h-1zM556 256h2v1h-2zM607 256h1v1h-1zM488 257h1v1h-1zM549 257h7v1h-7zM608 257h1v1h-1zM489 258h1v1h-1zM547 258h2v1h-2zM609 258h1v1h-1zM186 259h1v3h-1zM490 259h1v1h-1zM544 259h3v1h-3zM610 259h1v1h-1zM940 259h1v4h-1zM491 260h1v1h-1zM541 260h3v1h-3zM611 260h1v1h-1zM492 261h1v1h-1zM540 261h1v1h-1zM612 261h1v1h-1zM185 262h1v3h-1zM493 262h1v1h-1zM538 262h2v1h-2zM613 262h1v1h-1zM494 263h1v1h-1zM537 263h1v1h-1zM614 263h1v1h-1zM939 263h1v4h-1zM495 264h1v1h-1zM536 264h1v1h-1zM615 264h1v1h-1zM184 265h1v3h-1zM496 265h1v1h-1zM535 265h1v1h-1zM616 265h1v1h-1zM497 266h1v1h-1zM534 266h1v1h-1zM617 266h1v1h-1zM498 267h1v1h-1zM533 267h1v1h-1zM618 267h1v1h-1zM938 267h1v4h-1zM183 268h1v4h-1zM499 268h1v1h-1zM532 268h1v1h-1zM619 268h1v1h-1zM500 269h1v1h-1zM531 269h1v1h-1zM620 269h1v1h-1zM501 270h1v1h-1zM530 270h1v1h-1zM621 270h1v1h-1zM502 271h1v1h-1zM529 271h1v1h-1zM622 271h1v1h-1zM937 271h1v5h-1zM182 272h1v3h-1zM503 272h1v1h-1zM528 272h1v1h-1zM623 272h1v1h-1zM504 273h1v1h-1zM527 273h1v1h-1zM624 273h1v1h-1zM505 274h1v1h-1zM526 274h1v1h-1zM625 274h1v1h-1zM181 275h1v3h-1zM506 275h2v1h-2zM525 275h1v1h-1zM626 275h2v1h-2zM508 276h1v1h-1zM523 276h2v1h-2zM628 276h1v1h-1zM865 276h6v1h-6zM936 276h1v5h-1zM509 277h3v1h-3zM520 277h3v1h-3zM629 277h1v1h-1zM863 277h2v1h-2zM871 277h2v1h-2zM180 278h1v4h-1zM512 278h8v1h-8zM630 278h2v1h-2zM861 278h2v1h-2zM873 278h1v1h-1zM632 279h1v1h-1zM860 279h1v1h-1zM874 279h1v1h-1zM633 280h2v1h-2zM858 280h2v1h-2zM875 280h1v2h-1zM635 281h2v1h-2zM857 281h1v1h-1zM935 281h1v4h-1zM179 282h1v4h-1zM637 282h1v1h-1zM856 282h1v1h-1zM876 282h1v1h-1zM638 283h2v1h-2zM854 283h2v1h-2zM877 283h1v1h-1zM640 284h1v1h-1zM852 284h2v1h-2zM878 284h1v2h-1zM641 285h2v1h-2zM849 285h3v1h-3zM934 285h1v5h-1zM178 286h1v4h-1zM643 286h2v1h-2zM847 286h2v1h-2zM879 286h1v1h-1zM645 287h1v1h-1zM845 287h2v1h-2zM880 287h1v2h-1zM646 288h2v1h-2zM844 288h1v1h-1zM648 289h1v1h-1zM843 289h1v1h-1zM881 289h1v1h-1zM177 290h1v4h-1zM649 290h2v1h-2zM842 290h1v1h-1zM882 290h1v2h-1zM933 290h1v5h-1zM651 291h2v1h-2zM841 291h1v1h-1zM653 292h1v1h-1zM840 292h1v1h-1zM883 292h1v1h-1zM654 293h2v1h-2zM839 293h1v2h-1zM884 293h1v2h-1zM176 294h1v4h-1zM656 294h1v1h-1zM657 295h1v1h-1zM838 295h1v1h-1zM885 295h1v2h-1zM932 295h1v5h-1zM658 296h2v1h-2zM837 296h1v1h-1zM660 297h1v1h-1zM836 297h1v1h-1zM886 297h1v2h-1zM175 298h1v5h-1zM661 298h1v1h-1zM835 298h1v1h-1zM662 299h2v1h-2zM834 299h1v1h-1zM887 299h1v2h-1zM664 300h1v1h-1zM833 300h1v1h-1zM931 300h1v4h-1zM665 301h1v1h-1zM832 301h1v1h-1zM888 301h1v2h-1zM666 302h2v1h-2zM808 302h12v1h-12zM830 302h2v1h-2zM174 303h1v4h-1zM668 303h1v1h-1zM805 303h3v1h-3zM820 303h10v1h-10zM889 303h1v2h-1zM669 304h1v1h-1zM804 304h1v1h-1zM930 304h1v5h-1zM670 305h2v1h-2zM802 305h2v1h-2zM890 305h1v2h-1zM672 306h1v1h-1zM801 306h1v1h-1zM173 307h1v5h-1zM673 307h1v1h-1zM800 307h1v1h-1zM891 307h1v2h-1zM674 308h2v1h-2zM799 308h1v2h-1zM676 309h1v1h-1zM892 309h1v2h-1zM929 309h1v4h-1zM677 310h2v1h-2zM798 310h1v1h-1zM679 311h2v1h-2zM797 311h1v1h-1zM893 311h1v3h-1zM172 312h1v4h-1zM681 312h1v1h-1zM796 312h1v2h-1zM682 313h1v1h-1zM928 313h1v3h-1zM683 314h1v1h-1zM795 314h1v2h-1zM894 314h1v2h-1zM684 315h1v1h-1zM171 316h1v5h-1zM685 316h1v1h-1zM794 316h1v2h-1zM895 316h1v2h-1zM927 316h1v2h-1zM686 317h1v2h-1zM793 318h1v2h-1zM896 318h1v2h-1zM926 318h1v3h-1zM687 319h1v1h-1zM688 320h1v2h-1zM792 320h1v2h-1zM897 320h1v1h-1zM170 321h1v4h-1zM898 321h1v2h-1zM925 321h1v2h-1zM689 322h1v1h-1zM791 322h1v2h-1zM690 323h1v2h-1zM899 323h1v1h-1zM924 323h1v1h-1zM790 324h1v2h-1zM900 324h1v2h-1zM923 324h1v1h-1zM169 325h1v5h-1zM691 325h1v2h-1zM922 325h1v1h-1zM789 326h1v2h-1zM901 326h1v1h-1zM921 326h1v1h-1zM692 327h1v2h-1zM902 327h1v1h-1zM919 327h2v1h-2zM788 328h1v2h-1zM903 328h1v1h-1zM916 328h3v1h-3zM693 329h1v1h-1zM904 329h1v1h-1zM912 329h4v1h-4zM168 330h1v5h-1zM694 330h1v2h-1zM787 330h1v2h-1zM905 330h7v1h-7zM695 332h1v2h-1zM786 332h1v2h-1zM696 334h1v2h-1zM785 334h1v2h-1zM167 335h1v5h-1zM697 336h1v2h-1zM784 336h1v2h-1zM698 338h1v2h-1zM783 338h1v2h-1zM166 340h1v5h-1zM699 340h1v2h-1zM782 340h1v2h-1zM700 342h1v2h-1zM781 342h1v2h-1zM701 344h1v2h-1zM780 344h1v2h-1zM165 345h1v5h-1zM702 346h1v2h-1zM779 346h1v2h-1zM703 348h1v2h-1zM778 348h1v2h-1zM164 350h1v5h-1zM704 350h1v2h-1zM777 350h1v3h-1zM705 352h1v3h-1zM776 353h1v3h-1zM163 355h1v4h-1zM706 355h1v2h-1zM775 356h1v2h-1zM707 357h1v2h-1zM774 358h1v3h-1zM162 359h1v5h-1zM708 359h1v2h-1zM709 361h1v3h-1zM773 361h1v3h-1zM161 364h1v5h-1zM710 364h1v2h-1zM772 364h1v3h-1zM711 366h1v2h-1zM771 367h1v2h-1zM712 368h1v2h-1zM160 369h1v4h-1zM770 369h1v3h-1zM713 370h1v2h-1zM714 372h1v2h-1zM769 372h1v3h-1zM159 373h1v4h-1zM715 374h1v2h-1zM768 375h1v3h-1zM716 376h1v2h-1zM158 377h1v4h-1zM717 378h1v1h-1zM767 378h1v2h-1zM718 379h1v2h-1zM766 380h1v3h-1zM157 381h1v4h-1zM719 381h1v2h-1zM720 383h1v2h-1zM765 383h1v3h-1zM156 385h1v4h-1zM721 385h1v2h-1zM764 386h1v2h-1zM722 387h1v2h-1zM763 388h1v2h-1zM155 389h1v4h-1zM723 389h1v2h-1zM762 390h1v2h-1zM724 391h1v2h-1zM761 392h1v2h-1zM154 393h1v4h-1zM725 393h1v2h-1zM760 394h1v2h-1zM726 395h1v2h-1zM759 396h1v2h-1zM153 397h1v3h-1zM727 397h1v2h-1zM9 398h1v1h-1zM758 398h1v2h-1zM10 399h1v2h-1zM728 399h1v2h-1zM152 400h1v4h-1zM757 400h1v2h-1zM11 401h1v1h-1zM729 401h1v1h-1zM12 402h1v2h-1zM730 402h1v2h-1zM756 402h1v2h-1zM13 404h1v1h-1zM151 404h1v3h-1zM731 404h1v1h-1zM755 404h1v2h-1zM14 405h1v1h-1zM732 405h1v2h-1zM15 406h1v2h-1zM754 406h1v2h-1zM150 407h1v4h-1zM733 407h1v1h-1zM16 408h1v1h-1zM734 408h1v1h-1zM753 408h1v1h-1zM17 409h1v1h-1zM735 409h1v1h-1zM752 409h1v1h-1zM18 410h1v1h-1zM736 410h1v1h-1zM751 410h1v2h-1zM19 411h1v2h-1zM149 411h1v3h-1zM737 411h2v1h-2zM739 412h2v1h-2zM750 412h1v1h-1zM20 413h1v1h-1zM741 413h3v1h-3zM748 413h2v1h-2zM21 414h1v1h-1zM148 414h1v2h-1zM744 414h4v1h-4zM22 415h1v1h-1zM23 416h1v2h-1zM147 416h1v3h-1zM24 418h1v1h-1zM25 419h1v1h-1zM146 419h1v2h-1zM26 420h1v2h-1zM145 421h1v2h-1zM27 422h1v1h-1zM28 423h1v2h-1zM144 423h1v2h-1zM29 425h1v1h-1zM143 425h1v2h-1zM30 426h1v1h-1zM31 427h1v2h-1zM142 427h1v2h-1zM32 429h1v1h-1zM141 429h1v2h-1zM33 430h1v1h-1zM34 431h1v1h-1zM140 431h1v1h-1zM35 432h1v1h-1zM139 432h1v1h-1zM36 433h1v1h-1zM138 433h1v1h-1zM37 434h1v1h-1zM136 434h2v1h-2zM38 435h1v1h-1zM61 435h19v1h-19zM100 435h8v1h-8zM128 435h8v1h-8zM39 436h1v1h-1zM59 436h2v1h-2zM80 436h4v1h-4zM96 436h4v1h-4zM108 436h4v1h-4zM120 436h8v1h-8zM40 437h1v1h-1zM57 437h2v1h-2zM84 437h12v1h-12zM112 437h8v1h-8zM41 438h1v1h-1zM55 438h2v1h-2zM42 439h2v1h-2zM53 439h2v1h-2zM44 440h1v1h-1zM51 440h2v1h-2zM45 441h6v1h-6z"/><path fill="#ffa500" d="M253 87h5v1h-5zM252 88h1v1h-1zM258 88h1v1h-1zM250 89h2v1h-2zM259 89h1v2h-1zM249 90h1v1h-1zM248 91h1v1h-1zM260 91h1v1h-1zM246 92h2v1h-2zM261 92h1v2h-1zM244 93h2v1h-2zM241 94h3v1h-3zM262 94h1v3h-1zM1177 94h5v1h-5zM240 95h1v1h-1zM1176 95h1v1h-1zM1182 95h2v1h-2zM239 96h1v2h-1zM1174 96h2v1h-2zM1184 96h1v1h-1zM263 97h1v3h-1zM1173 97h1v1h-1zM1185 97h1v1h-1zM238 98h1v1h-1zM1172 98h1v1h-1zM237 99h1v1h-1zM1171 99h1v2h-1zM236 100h1v1h-1zM264 100h1v3h-1zM235 101h1v1h-1zM1170 101h1v1h-1zM234 102h1v1h-1zM1169 102h1v2h-1zM233 103h1v2h-1zM265 103h1v4h-1zM1168 104h1v3h-1zM232 105h1v4h-1zM266 107h1v5h-1zM1167 107h1v3h-1zM231 109h1v4h-1zM1166 110h1v3h-1zM267 112h1v5h-1zM230 113h1v4h-1zM1165 113h1v3h-1zM353 115h3v1h-3zM352 116h1v1h-1zM356 116h2v1h-2zM1164 116h1v2h-1zM229 117h1v5h-1zM268 117h1v5h-1zM350 117h2v1h-2zM357 117h1v1h-1zM349 118h1v1h-1zM358 118h1v2h-1zM1163 118h1v2h-1zM348 119h1v1h-1zM347 120h1v1h-1zM359 120h1v2h-1zM1162 120h1v2h-1zM346 121h1v1h-1zM228 122h1v6h-1zM269 122h1v4h-1zM345 122h1v1h-1zM360 122h1v2h-1zM1161 122h1v3h-1zM344 123h1v2h-1zM361 124h1v2h-1zM343 125h1v1h-1zM1160 125h1v2h-1zM270 126h1v4h-1zM342 126h1v2h-1zM362 126h1v2h-1zM1159 127h1v2h-1zM227 128h1v6h-1zM341 128h1v1h-1zM363 128h1v2h-1zM340 129h1v2h-1zM1158 129h1v2h-1zM271 130h1v3h-1zM364 130h1v2h-1zM339 131h1v1h-1zM1157 131h1v2h-1zM338 132h1v2h-1zM365 132h1v2h-1zM1097 132h1v2h-1zM272 133h1v4h-1zM376 133h2v1h-2zM1096 133h1v2h-1zM1156 133h1v2h-1zM226 134h1v6h-1zM337 134h1v1h-1zM366 134h2v1h-2zM373 134h3v1h-3zM378 134h1v1h-1zM1098 134h1v3h-1zM336 135h1v2h-1zM368 135h1v1h-1zM371 135h2v1h-2zM379 135h1v1h-1zM1095 135h1v2h-1zM1155 135h1v2h-1zM369 136h2v1h-2zM380 136h1v1h-1zM273 137h1v3h-1zM335 137h1v2h-1zM381 137h1v2h-1zM1094 137h1v2h-1zM1099 137h1v3h-1zM1154 137h1v2h-1zM334 139h1v2h-1zM382 139h1v2h-1zM948 139h2v1h-2zM1093 139h1v2h-1zM1153 139h1v1h-1zM225 140h1v7h-1zM274 140h1v3h-1zM945 140h3v1h-3zM950 140h2v1h-2zM1100 140h1v3h-1zM1152 140h1v2h-1zM333 141h1v1h-1zM383 141h1v2h-1zM945 141h1v1h-1zM952 141h1v1h-1zM1092 141h1v3h-1zM1137 141h3v1h-3zM332 142h1v2h-1zM944 142h1v4h-1zM953 142h1v2h-1zM1136 142h1v1h-1zM1140 142h2v1h-2zM1151 142h1v1h-1zM275 143h1v2h-1zM384 143h1v2h-1zM1101 143h1v3h-1zM1134 143h2v1h-2zM1142 143h2v1h-2zM1150 143h1v2h-1zM331 144h1v2h-1zM954 144h1v2h-1zM1091 144h1v2h-1zM1133 144h1v1h-1zM1144 144h1v1h-1zM276 145h1v3h-1zM385 145h1v2h-1zM1132 145h1v2h-1zM1145 145h5v1h-5zM330 146h1v2h-1zM943 146h1v3h-1zM955 146h1v2h-1zM1090 146h1v3h-1zM1102 146h1v3h-1zM224 147h1v6h-1zM386 147h1v3h-1zM1131 147h1v1h-1zM277 148h1v3h-1zM329 148h1v1h-1zM956 148h1v2h-1zM1130 148h1v2h-1zM328 149h1v2h-1zM942 149h1v4h-1zM1089 149h1v3h-1zM1103 149h1v3h-1zM387 150h1v3h-1zM957 150h1v3h-1zM1129 150h1v2h-1zM278 151h1v2h-1zM327 151h1v2h-1zM1088 152h1v3h-1zM1104 152h1v3h-1zM1128 152h1v2h-1zM223 153h1v6h-1zM279 153h1v2h-1zM326 153h1v2h-1zM388 153h1v3h-1zM941 153h1v6h-1zM958 153h1v2h-1zM1127 154h1v3h-1zM280 155h1v2h-1zM325 155h1v3h-1zM959 155h1v3h-1zM1087 155h1v4h-1zM1105 155h1v2h-1zM389 156h1v4h-1zM281 157h1v3h-1zM1106 157h1v2h-1zM1126 157h1v2h-1zM324 158h1v2h-1zM960 158h1v2h-1zM222 159h1v6h-1zM940 159h1v9h-1zM1086 159h1v3h-1zM1107 159h1v2h-1zM1125 159h1v3h-1zM282 160h1v4h-1zM323 160h1v2h-1zM390 160h1v4h-1zM961 160h1v2h-1zM969 161h1v1h-1zM993 161h1v1h-1zM1108 161h1v2h-1zM322 162h1v2h-1zM962 162h2v1h-2zM968 162h1v1h-1zM970 162h1v2h-1zM992 162h1v1h-1zM994 162h1v2h-1zM1085 162h1v3h-1zM1124 162h1v2h-1zM964 163h1v1h-1zM966 163h2v1h-2zM985 163h3v1h-3zM990 163h2v1h-2zM1109 163h1v1h-1zM283 164h1v3h-1zM321 164h1v3h-1zM391 164h1v4h-1zM965 164h1v1h-1zM971 164h1v2h-1zM984 164h1v1h-1zM988 164h2v1h-2zM995 164h1v2h-1zM1110 164h1v1h-1zM1123 164h1v2h-1zM221 165h1v6h-1zM982 165h2v1h-2zM1084 165h1v3h-1zM1111 165h1v1h-1zM972 166h1v2h-1zM981 166h1v1h-1zM996 166h1v2h-1zM1112 166h1v1h-1zM1122 166h1v2h-1zM284 167h1v4h-1zM320 167h1v2h-1zM979 167h2v1h-2zM1113 167h1v1h-1zM392 168h1v4h-1zM939 168h1v8h-1zM973 168h6v1h-6zM997 168h1v2h-1zM1083 168h1v4h-1zM1114 168h1v1h-1zM1121 168h1v2h-1zM319 169h1v2h-1zM1115 169h1v1h-1zM998 170h1v4h-1zM1116 170h1v1h-1zM1119 170h2v1h-2zM220 171h1v5h-1zM285 171h1v3h-1zM318 171h1v2h-1zM1117 171h2v1h-2zM393 172h1v4h-1zM1082 172h1v3h-1zM317 173h1v3h-1zM286 174h1v4h-1zM999 174h1v3h-1zM1060 175h4v1h-4zM1081 175h1v3h-1zM219 176h1v5h-1zM316 176h1v3h-1zM394 176h1v3h-1zM938 176h1v9h-1zM1057 176h3v1h-3zM1064 176h2v1h-2zM1000 177h1v4h-1zM1056 177h1v1h-1zM1066 177h2v1h-2zM287 178h1v3h-1zM1054 178h2v1h-2zM1068 178h1v1h-1zM1080 178h1v2h-1zM315 179h1v3h-1zM395 179h1v4h-1zM1053 179h1v1h-1zM1069 179h1v1h-1zM1052 180h1v1h-1zM1070 180h1v1h-1zM1079 180h1v2h-1zM218 181h1v5h-1zM288 181h1v4h-1zM1001 181h1v4h-1zM1050 181h2v1h-2zM1071 181h1v1h-1zM314 182h1v3h-1zM1049 182h1v1h-1zM1072 182h1v1h-1zM1078 182h1v2h-1zM396 183h1v3h-1zM1048 183h1v1h-1zM1073 183h2v1h-2zM177 184h1v2h-1zM1047 184h1v1h-1zM1075 184h3v1h-3zM175 185h2v1h-2zM289 185h1v3h-1zM313 185h1v3h-1zM937 185h1v8h-1zM1002 185h1v4h-1zM1046 185h1v1h-1zM1077 185h1v1h-1zM173 186h2v1h-2zM178 186h1v3h-1zM217 186h1v5h-1zM397 186h1v2h-1zM1045 186h1v1h-1zM173 187h1v1h-1zM1044 187h1v2h-1zM172 188h1v2h-1zM290 188h1v3h-1zM312 188h1v3h-1zM398 188h1v1h-1zM179 189h1v3h-1zM399 189h1v1h-1zM1003 189h1v4h-1zM1043 189h1v1h-1zM171 190h1v2h-1zM400 190h1v1h-1zM408 190h6v1h-6zM1042 190h1v2h-1zM216 191h1v4h-1zM291 191h1v3h-1zM311 191h1v3h-1zM401 191h7v1h-7zM414 191h1v1h-1zM170 192h1v2h-1zM180 192h1v3h-1zM415 192h1v1h-1zM1041 192h1v1h-1zM416 193h1v1h-1zM936 193h1v7h-1zM1004 193h1v4h-1zM1040 193h1v1h-1zM169 194h1v4h-1zM292 194h1v3h-1zM310 194h1v3h-1zM417 194h1v1h-1zM1039 194h1v2h-1zM181 195h1v3h-1zM215 195h1v4h-1zM418 195h1v1h-1zM419 196h1v2h-1zM1038 196h1v1h-1zM293 197h1v3h-1zM309 197h1v4h-1zM1005 197h1v3h-1zM1037 197h1v1h-1zM168 198h1v6h-1zM182 198h1v2h-1zM420 198h1v1h-1zM1036 198h1v2h-1zM214 199h1v4h-1zM421 199h2v1h-2zM183 200h1v2h-1zM294 200h1v3h-1zM423 200h2v1h-2zM935 200h1v6h-1zM1006 200h1v4h-1zM1035 200h1v1h-1zM308 201h1v4h-1zM425 201h1v1h-1zM1034 201h1v2h-1zM184 202h1v2h-1zM426 202h1v1h-1zM213 203h1v4h-1zM295 203h1v2h-1zM427 203h1v2h-1zM1033 203h1v1h-1zM167 204h1v6h-1zM185 204h1v2h-1zM1007 204h1v3h-1zM1032 204h1v2h-1zM296 205h1v3h-1zM307 205h1v4h-1zM428 205h1v1h-1zM186 206h1v2h-1zM429 206h1v1h-1zM934 206h1v7h-1zM1031 206h1v2h-1zM212 207h1v3h-1zM430 207h1v1h-1zM1008 207h1v4h-1zM187 208h1v2h-1zM297 208h1v3h-1zM431 208h1v1h-1zM1030 208h1v2h-1zM306 209h1v4h-1zM432 209h1v1h-1zM166 210h1v6h-1zM188 210h1v2h-1zM211 210h1v4h-1zM433 210h1v1h-1zM1029 210h1v3h-1zM298 211h1v3h-1zM434 211h2v1h-2zM1009 211h1v3h-1zM189 212h1v3h-1zM436 212h1v1h-1zM305 213h1v3h-1zM437 213h1v1h-1zM933 213h1v7h-1zM1028 213h1v2h-1zM210 214h1v3h-1zM299 214h1v2h-1zM438 214h2v1h-2zM1010 214h1v3h-1zM190 215h1v4h-1zM440 215h1v1h-1zM1027 215h1v3h-1zM165 216h1v6h-1zM300 216h1v3h-1zM304 216h1v1h-1zM441 216h3v1h-3zM209 217h1v2h-1zM303 217h1v2h-1zM444 217h3v1h-3zM1011 217h1v2h-1zM447 218h2v1h-2zM1026 218h1v2h-1zM191 219h1v3h-1zM208 219h1v1h-1zM301 219h2v1h-2zM449 219h1v1h-1zM1012 219h1v3h-1zM207 220h1v1h-1zM301 220h1v1h-1zM450 220h2v1h-2zM932 220h1v7h-1zM1025 220h1v2h-1zM206 221h1v1h-1zM452 221h1v1h-1zM164 222h1v6h-1zM192 222h1v4h-1zM205 222h1v1h-1zM453 222h1v1h-1zM1013 222h1v2h-1zM1024 222h1v1h-1zM204 223h1v2h-1zM454 223h1v1h-1zM1023 223h1v2h-1zM455 224h1v1h-1zM1014 224h2v1h-2zM203 225h1v1h-1zM456 225h1v1h-1zM1016 225h1v1h-1zM1022 225h1v1h-1zM193 226h1v3h-1zM202 226h1v2h-1zM457 226h1v1h-1zM1017 226h5v1h-5zM458 227h1v2h-1zM931 227h1v6h-1zM163 228h1v6h-1zM201 228h1v2h-1zM194 229h1v3h-1zM459 229h1v1h-1zM200 230h1v2h-1zM460 230h1v2h-1zM573 230h5v1h-5zM572 231h1v1h-1zM578 231h1v2h-1zM195 232h1v2h-1zM199 232h1v3h-1zM461 232h1v2h-1zM570 232h2v1h-2zM569 233h1v1h-1zM579 233h1v1h-1zM930 233h1v7h-1zM162 234h1v6h-1zM196 234h1v3h-1zM462 234h1v2h-1zM568 234h1v1h-1zM580 234h1v2h-1zM198 235h1v2h-1zM567 235h1v2h-1zM463 236h1v2h-1zM581 236h1v2h-1zM197 237h1v2h-1zM566 237h1v1h-1zM464 238h1v2h-1zM565 238h1v2h-1zM582 238h1v2h-1zM161 240h1v8h-1zM465 240h1v3h-1zM564 240h1v3h-1zM583 240h1v2h-1zM929 240h1v6h-1zM584 242h1v2h-1zM466 243h1v3h-1zM563 243h1v4h-1zM533 244h3v1h-3zM585 244h1v1h-1zM532 245h1v1h-1zM536 245h2v1h-2zM586 245h1v1h-1zM467 246h1v3h-1zM530 246h2v1h-2zM538 246h2v1h-2zM587 246h1v2h-1zM928 246h1v4h-1zM529 247h1v2h-1zM540 247h1v1h-1zM562 247h1v3h-1zM160 248h1v10h-1zM541 248h1v1h-1zM588 248h1v1h-1zM468 249h1v3h-1zM528 249h1v2h-1zM542 249h1v1h-1zM589 249h1v1h-1zM853 249h1v1h-1zM543 250h1v1h-1zM561 250h1v2h-1zM590 250h2v1h-2zM852 250h1v1h-1zM854 250h1v1h-1zM927 250h1v4h-1zM527 251h1v2h-1zM544 251h1v1h-1zM592 251h1v1h-1zM851 251h1v1h-1zM855 251h1v1h-1zM469 252h1v3h-1zM545 252h1v1h-1zM560 252h1v1h-1zM593 252h1v1h-1zM850 252h1v1h-1zM856 252h1v1h-1zM526 253h1v2h-1zM546 253h1v1h-1zM559 253h1v2h-1zM594 253h1v2h-1zM849 253h1v1h-1zM857 253h1v2h-1zM547 254h1v1h-1zM848 254h1v2h-1zM926 254h1v4h-1zM470 255h1v3h-1zM525 255h1v3h-1zM548 255h1v1h-1zM558 255h1v1h-1zM595 255h1v2h-1zM858 255h1v2h-1zM549 256h3v1h-3zM556 256h2v1h-2zM847 256h1v2h-1zM552 257h4v1h-4zM596 257h1v2h-1zM859 257h1v2h-1zM159 258h1v9h-1zM471 258h1v4h-1zM524 258h1v2h-1zM846 258h1v2h-1zM925 258h1v4h-1zM597 259h1v2h-1zM860 259h1v2h-1zM523 260h1v3h-1zM845 260h1v3h-1zM598 261h1v2h-1zM861 261h1v2h-1zM472 262h1v3h-1zM924 262h1v3h-1zM522 263h1v2h-1zM599 263h1v3h-1zM844 263h1v2h-1zM862 263h1v3h-1zM473 265h1v3h-1zM521 265h1v2h-1zM843 265h1v3h-1zM923 265h1v3h-1zM600 266h1v2h-1zM863 266h1v2h-1zM158 267h1v10h-1zM519 267h2v1h-2zM474 268h1v3h-1zM516 268h3v1h-3zM601 268h1v3h-1zM842 268h1v2h-1zM864 268h1v3h-1zM922 268h1v3h-1zM512 269h4v1h-4zM508 270h4v1h-4zM841 270h1v3h-1zM475 271h1v4h-1zM505 271h3v1h-3zM602 271h1v2h-1zM865 271h1v3h-1zM921 271h1v3h-1zM504 272h1v1h-1zM503 273h1v1h-1zM603 273h1v3h-1zM840 273h1v3h-1zM502 274h1v1h-1zM866 274h1v4h-1zM920 274h1v4h-1zM476 275h1v3h-1zM501 275h1v1h-1zM500 276h1v2h-1zM604 276h1v2h-1zM839 276h1v2h-1zM157 277h1v10h-1zM477 278h1v3h-1zM499 278h1v1h-1zM605 278h1v3h-1zM838 278h1v3h-1zM867 278h1v3h-1zM919 278h1v3h-1zM498 279h1v2h-1zM478 281h1v3h-1zM497 281h1v2h-1zM606 281h1v2h-1zM837 281h1v3h-1zM868 281h1v4h-1zM918 281h1v4h-1zM496 283h1v4h-1zM607 283h1v3h-1zM479 284h1v4h-1zM836 284h1v2h-1zM637 285h2v1h-2zM869 285h1v3h-1zM917 285h1v4h-1zM608 286h1v2h-1zM635 286h2v1h-2zM639 286h2v1h-2zM835 286h1v3h-1zM156 287h1v11h-1zM495 287h1v3h-1zM633 287h2v1h-2zM641 287h2v1h-2zM480 288h1v3h-1zM609 288h1v2h-1zM632 288h1v1h-1zM643 288h2v1h-2zM870 288h1v4h-1zM630 289h2v1h-2zM645 289h1v1h-1zM834 289h1v2h-1zM916 289h1v5h-1zM494 290h1v4h-1zM610 290h1v2h-1zM629 290h1v1h-1zM646 290h2v1h-2zM781 290h1v1h-1zM481 291h1v3h-1zM628 291h1v1h-1zM648 291h1v1h-1zM780 291h1v1h-1zM782 291h1v1h-1zM833 291h1v2h-1zM611 292h1v1h-1zM617 292h7v1h-7zM626 292h2v1h-2zM649 292h1v1h-1zM779 292h1v2h-1zM783 292h1v2h-1zM871 292h1v4h-1zM612 293h1v2h-1zM616 293h1v1h-1zM624 293h2v1h-2zM650 293h1v1h-1zM832 293h1v2h-1zM482 294h1v2h-1zM493 294h1v2h-1zM614 294h2v1h-2zM651 294h1v1h-1zM778 294h1v1h-1zM784 294h1v1h-1zM915 294h1v5h-1zM613 295h1v1h-1zM652 295h1v1h-1zM777 295h1v1h-1zM785 295h1v1h-1zM831 295h1v2h-1zM483 296h1v2h-1zM492 296h1v1h-1zM653 296h1v1h-1zM776 296h1v2h-1zM786 296h2v1h-2zM872 296h1v4h-1zM490 297h2v1h-2zM654 297h1v2h-1zM788 297h1v1h-1zM830 297h1v2h-1zM155 298h1v11h-1zM484 298h1v2h-1zM489 298h1v1h-1zM775 298h1v1h-1zM789 298h2v1h-2zM487 299h2v1h-2zM655 299h1v1h-1zM774 299h1v2h-1zM791 299h2v1h-2zM829 299h1v2h-1zM914 299h1v5h-1zM485 300h2v1h-2zM656 300h1v2h-1zM793 300h3v1h-3zM873 300h1v4h-1zM773 301h1v1h-1zM796 301h4v1h-4zM828 301h1v2h-1zM657 302h1v2h-1zM772 302h1v2h-1zM800 302h7v1h-7zM807 303h2v1h-2zM827 303h1v2h-1zM658 304h1v2h-1zM771 304h1v2h-1zM809 304h1v1h-1zM874 304h1v5h-1zM913 304h1v6h-1zM810 305h2v1h-2zM826 305h1v2h-1zM659 306h1v2h-1zM770 306h1v2h-1zM812 306h1v1h-1zM813 307h1v1h-1zM825 307h1v2h-1zM660 308h1v2h-1zM769 308h1v3h-1zM814 308h1v1h-1zM154 309h1v11h-1zM815 309h1v2h-1zM824 309h1v1h-1zM875 309h1v5h-1zM661 310h1v3h-1zM823 310h1v1h-1zM912 310h1v6h-1zM768 311h1v4h-1zM816 311h1v1h-1zM822 311h1v1h-1zM817 312h5v1h-5zM662 313h1v2h-1zM876 314h1v5h-1zM663 315h1v3h-1zM767 315h1v3h-1zM911 316h1v7h-1zM664 318h1v2h-1zM766 318h1v4h-1zM877 319h1v5h-1zM153 320h1v10h-1zM665 320h1v2h-1zM666 322h1v2h-1zM765 322h1v3h-1zM910 323h1v6h-1zM667 324h1v2h-1zM878 324h1v5h-1zM764 325h1v3h-1zM668 326h1v2h-1zM669 328h1v1h-1zM763 328h1v4h-1zM670 329h1v2h-1zM879 329h1v4h-1zM909 329h1v6h-1zM152 330h1v10h-1zM671 331h1v1h-1zM672 332h1v2h-1zM762 332h1v3h-1zM880 333h1v5h-1zM673 334h1v1h-1zM674 335h2v1h-2zM681 335h2v1h-2zM761 335h1v3h-1zM908 335h1v4h-1zM676 336h1v1h-1zM679 336h2v1h-2zM683 336h2v1h-2zM677 337h2v1h-2zM685 337h1v1h-1zM686 338h1v2h-1zM760 338h1v3h-1zM881 338h1v5h-1zM907 339h1v5h-1zM151 340h1v10h-1zM687 340h1v1h-1zM688 341h1v2h-1zM759 341h1v4h-1zM689 343h1v2h-1zM882 343h1v4h-1zM906 344h1v4h-1zM690 345h1v2h-1zM758 345h1v3h-1zM691 347h1v2h-1zM883 347h1v5h-1zM757 348h1v3h-1zM905 348h1v4h-1zM692 349h1v2h-1zM150 350h1v10h-1zM693 351h1v3h-1zM756 351h1v3h-1zM884 352h1v4h-1zM904 352h1v2h-1zM694 354h1v3h-1zM755 354h1v3h-1zM903 354h1v3h-1zM885 356h1v4h-1zM695 357h1v3h-1zM754 357h1v3h-1zM902 357h1v2h-1zM901 359h1v2h-1zM149 360h1v10h-1zM696 360h1v3h-1zM753 360h1v3h-1zM886 360h1v2h-1zM900 361h1v2h-1zM887 362h1v3h-1zM697 363h1v3h-1zM752 363h1v4h-1zM899 363h1v2h-1zM888 365h1v2h-1zM898 365h1v2h-1zM698 366h1v4h-1zM751 367h1v4h-1zM889 367h1v2h-1zM897 367h1v1h-1zM896 368h1v1h-1zM890 369h1v1h-1zM895 369h1v2h-1zM148 370h1v10h-1zM699 370h1v3h-1zM891 370h1v1h-1zM750 371h1v4h-1zM892 371h1v1h-1zM894 371h1v1h-1zM893 372h1v1h-1zM700 373h1v4h-1zM749 375h1v4h-1zM701 377h1v3h-1zM748 379h1v4h-1zM147 380h1v9h-1zM702 380h1v4h-1zM747 383h1v4h-1zM703 384h1v4h-1zM746 387h1v4h-1zM704 388h1v4h-1zM146 389h1v10h-1zM745 391h1v5h-1zM705 392h1v3h-1zM706 395h1v3h-1zM744 396h1v5h-1zM707 398h1v4h-1zM145 399h1v6h-1zM743 401h1v4h-1zM708 402h1v3h-1zM144 405h1v4h-1zM709 405h1v3h-1zM742 405h1v5h-1zM710 408h1v2h-1zM143 409h1v4h-1zM711 410h1v3h-1zM741 410h1v5h-1zM142 413h1v4h-1zM712 413h1v2h-1zM713 415h1v2h-1zM740 415h1v4h-1zM141 417h1v2h-1zM714 417h1v2h-1zM140 419h1v2h-1zM715 419h1v2h-1zM739 419h1v4h-1zM139 421h1v2h-1zM716 421h1v2h-1zM60 423h4v1h-4zM138 423h1v2h-1zM717 423h1v2h-1zM738 423h1v4h-1zM57 424h3v1h-3zM64 424h2v1h-2zM56 425h1v1h-1zM66 425h1v2h-1zM137 425h1v2h-1zM718 425h1v2h-1zM54 426h2v1h-2zM53 427h1v1h-1zM67 427h1v1h-1zM136 427h1v1h-1zM719 427h1v3h-1zM737 427h1v4h-1zM52 428h1v2h-1zM68 428h1v2h-1zM135 428h1v2h-1zM51 430h1v2h-1zM69 430h1v1h-1zM134 430h1v1h-1zM720 430h1v2h-1zM70 431h2v1h-2zM133 431h1v1h-1zM736 431h1v2h-1zM50 432h1v2h-1zM72 432h1v1h-1zM132 432h1v1h-1zM721 432h1v3h-1zM73 433h1v1h-1zM131 433h1v1h-1zM735 433h1v3h-1zM49 434h1v1h-1zM74 434h2v1h-2zM101 434h11v1h-11zM130 434h1v1h-1zM48 435h1v2h-1zM76 435h1v1h-1zM99 435h2v1h-2zM112 435h2v1h-2zM128 435h2v1h-2zM722 435h1v2h-1zM77 436h1v1h-1zM97 436h2v1h-2zM114 436h2v1h-2zM124 436h4v1h-4zM734 436h1v2h-1zM47 437h1v1h-1zM78 437h2v1h-2zM95 437h2v1h-2zM116 437h1v1h-1zM120 437h4v1h-4zM723 437h1v2h-1zM46 438h1v2h-1zM80 438h1v1h-1zM84 438h11v1h-11zM117 438h3v1h-3zM733 438h1v2h-1zM81 439h3v1h-3zM724 439h1v2h-1zM45 440h1v1h-1zM732 440h1v1h-1zM21 441h6v1h-6zM43 441h2v1h-2zM725 441h2v1h-2zM731 441h1v1h-1zM20 442h1v1h-1zM27 442h2v1h-2zM40 442h3v1h-3zM727 442h2v1h-2zM730 442h1v1h-1zM9 443h1v1h-1zM18 443h2v1h-2zM29 443h2v1h-2zM37 443h3v1h-3zM729 443h1v1h-1zM10 444h1v1h-1zM17 444h1v1h-1zM31 444h2v1h-2zM35 444h2v1h-2zM11 445h1v2h-1zM16 445h1v1h-1zM33 445h2v1h-2zM15 446h1v1h-1zM12 447h1v1h-1zM14 447h1v1h-1zM13 448h1v1h-1z"/></g><g shape-rendering="crispEdges"><rect x="10" y="43" width="1483" height="2" fill="#ff0000"/><rect x="9" y="166" width="1484" height="2" fill="#00ff00"/><rect x="9" y="288" width="1484" height="2" fill="#0000ff"/><rect x="9" y="431" width="1484" height="2" fill="#0000ff"/><rect x="8" y="164" width="6" height="6" fill="#00ff00"/><rect x="10" y="166" width="2" height="2" fill="#fff"/><rect x="1487" y="164" width="6" height="6" fill="#00ff00"/><rect x="1489" y="166" width="2" height="2" fill="#fff"/><rect x="8" y="286" width="6" height="6" fill="#0000ff"/><rect x="10" y="288" width="2" height="2" fill="#fff"/><rect x="1487" y="286" width="6" height="6" fill="#0000ff"/><rect x="1489" y="288" width="2" height="2" fill="#fff"/><path d="M1189 30h10l-5 5z" fill="#c0c0c0" shape-rendering="auto"/><rect x="8" y="28" width="1486" height="1" fill="#000"/><rect x="8" y="28" width="1" height="654" fill="#000"/><rect x="1493" y="28" width="1" height="654" fill="#000"/><rect x="8" y="504" width="1486" height="1" fill="#000"/><rect x="8" y="506" width="1486" height="1" fill="#000"/><rect x="8" y="593" width="1486" height="1" fill="#000"/><rect x="8" y="595" width="1486" height="1" fill="#000"/><rect x="8" y="681" width="1486" height="1" fill="#000"/><rect x="8" y="505" width="1486" height="1" fill="#fff"/><rect x="8" y="594" width="1486" height="1" fill="#fff"/><rect x="1494" y="39" width="2" height="1" fill="#000"/><rect x="1494" y="72" width="2" height="1" fill="#000"/><rect x="1494" y="105" width="2" height="1" fill="#000"/><rect x="1494" y="138" width="2" height="1" fill="#000"/><rect x="1494" y="171" width="2" height="1" fill="#000"/><rect x="1494" y="204" width="2" height="1" fill="#000"/><rect x="1494" y="237" width="2" height="1" fill="#000"/><rect x="1494" y="270" width="2" height="1" fill="#000"/><rect x="1494" y="303" width="2" height="1" fill="#000"/><rect x="1494" y="336" width="2" height="1" fill="#000"/><rect x="1494" y="369" width="2" height="1" fill="#000"/><rect x="1494" y="402" width="2" height="1" fill="#000"/><rect x="1494" y="435" width="2" height="1" fill="#000"/><rect x="1494" y="468" width="2" height="1" fill="#000"/><rect x="1494" y="501" width="2" height="1" fill="#000"/><rect x="1494" y="533" width="2" height="1" fill="#000"/><rect x="1494" y="567" width="2" height="1" fill="#000"/><rect x="1494" y="648" width="2" height="1" fill="#000"/><rect x="9" y="682" width="1" height="3" fill="#000"/><rect x="73" y="682" width="1" height="3" fill="#000"/><rect x="137" y="682" width="1" height="3" fill="#000"/><rect x="201" y="682" width="1" height="3" fill="#000"/><rect x="265" y="682" width="1" height="3" fill="#000"/><rect x="329" y="682" width="1" height="3" fill="#000"/><rect x="393" y="682" width="1" height="3" fill="#000"/><rect x="457" y="682" width="1" height="3" fill="#000"/><rect x="521" y="682" width="1" height="3" fill="#000"/><rect x="585" y="682" width="1" height="3" fill="#000"/><rect x="649" y="682" width="1" height="3" fill="#000"/><rect x="713" y="682" width="1" height="3" fill="#000"/><rect x="777" y="682" width="1" height="3" fill="#000"/><rect x="841" y="682" width="1" height="3" fill="#000"/><rect x="905" y="682" width="1" height="3" fill="#000"/><rect x="969" y="682" width="1" height="3" fill="#000"/><rect x="1033" y="682" width="1" height="3" fill="#000"/><rect x="1097" y="682" width="1" height="3" fill="#000"/><rect x="1161" y="682" width="1" height="3" fill="#000"/><path fill="#c0c0c0" d="M10 533h3v1h-3zM16 533h3v1h-3zM22 533h3v1h-3zM28 533h3v1h-3zM34 533h3v1h-3zM40 533h3v1h-3zM46 533h3v1h-3zM52 533h3v1h-3zM58 533h3v1h-3zM64 533h3v1h-3zM70 533h3v1h-3zM76 533h3v1h-3zM82 533h3v1h-3zM88 533h3v1h-3zM94 533h3v1h-3zM100 533h3v1h-3zM106 533h3v1h-3zM112 533h3v1h-3zM118 533h3v1h-3zM124 533h3v1h-3zM130 533h3v1h-3zM136 533h3v1h-3zM142 533h3v1h-3zM148 533h3v1h-3zM154 533h3v1h-3zM160 533h3v1h-3zM166 533h3v1h-3zM172 533h3v1h-3zM178 533h3v1h-3zM184 533h3v1h-3zM190 533h3v1h-3zM196 533h3v1h-3zM202 533h3v1h-3zM208 533h3v1h-3zM214 533h3v1h-3zM220 533h3v1h-3zM226 533h3v1h-3zM232 533h3v1h-3zM238 533h3v1h-3zM244 533h3v1h-3zM250 533h3v1h-3zM256 533h3v1h-3zM262 533h3v1h-3zM268 533h3v1h-3zM274 533h3v1h-3zM280 533h3v1h-3zM286 533h3v1h-3zM292 533h3v1h-3zM298 533h3v1h-3zM304 533h3v1h-3zM310 533h3v1h-3zM316 533h3v1h-3zM322 533h3v1h-3zM328 533h3v1h-3zM334 533h3v1h-3zM340 533h3v1h-3zM346 533h3v1h-3zM352 533h3v1h-3zM358 533h3v1h-3zM364 533h3v1h-3zM370 533h3v1h-3zM376 533h3v1h-3zM382 533h3v1h-3zM388 533h3v1h-3zM394 533h3v1h-3zM400 533h3v1h-3zM406 533h3v1h-3zM412 533h3v1h-3zM418 533h3v1h-3zM424 533h3v1h-3zM430 533h3v1h-3zM436 533h3v1h-3zM442 533h3v1h-3zM448 533h3v1h-3zM454 533h3v1h-3zM460 533h3v1h-3zM466 533h3v1h-3zM472 533h3v1h-3zM478 533h3v1h-3zM484 533h3v1h-3zM490 533h3v1h-3zM496 533h3v1h-3zM502 533h3v1h-3zM508 533h3v1h-3zM514 533h3v1h-3zM520 533h3v1h-3zM526 533h3v1h-3zM532 533h3v1h-3zM538 533h3v1h-3zM544 533h3v1h-3zM550 533h3v1h-3zM556 533h3v1h-3zM562 533h3v1h-3zM568 533h3v1h-3zM574 533h3v1h-3zM580 533h3v1h-3zM586 533h3v1h-3zM592 533h3v1h-3zM598 533h3v1h-3zM604 533h3v1h-3zM610 533h3v1h-3zM616 533h3v1h-3zM622 533h3v1h-3zM628 533h3v1h-3zM634 533h3v1h-3zM640 533h3v1h-3zM646 533h3v1h-3zM652 533h3v1h-3zM658 533h3v1h-3zM664 533h3v1h-3zM670 533h3v1h-3zM676 533h3v1h-3zM682 533h3v1h-3zM688 533h3v1h-3zM694 533h3v1h-3zM700 533h3v1h-3zM706 533h3v1h-3zM712 533h3v1h-3zM718 533h3v1h-3zM724 533h3v1h-3zM730 533h3v1h-3zM736 533h3v1h-3zM742 533h3v1h-3zM748 533h3v1h-3zM754 533h3v1h-3zM760 533h3v1h-3zM766 533h3v1h-3zM772 533h3v1h-3zM778 533h3v1h-3zM784 533h3v1h-3zM790 533h3v1h-3zM796 533h3v1h-3zM802 533h3v1h-3zM808 533h3v1h-3zM814 533h3v1h-3zM820 533h3v1h-3zM826 533h3v1h-3zM832 533h3v1h-3zM838 533h3v1h-3zM844 533h3v1h-3zM850 533h3v1h-3zM856 533h3v1h-3zM862 533h3v1h-3zM868 533h3v1h-3zM874 533h3v1h-3zM880 533h3v1h-3zM886 533h3v1h-3zM892 533h3v1h-3zM898 533h3v1h-3zM904 533h3v1h-3zM910 533h3v1h-3zM916 533h3v1h-3zM922 533h3v1h-3zM928 533h3v1h-3zM934 533h3v1h-3zM940 533h3v1h-3zM946 533h3v1h-3zM952 533h3v1h-3zM958 533h3v1h-3zM964 533h3v1h-3zM970 533h3v1h-3zM976 533h3v1h-3zM982 533h3v1h-3zM988 533h3v1h-3zM994 533h3v1h-3zM1000 533h3v1h-3zM1006 533h3v1h-3zM1012 533h3v1h-3zM1018 533h3v1h-3zM1024 533h3v1h-3zM1030 533h3v1h-3zM1036 533h3v1h-3zM1042 533h3v1h-3zM1048 533h3v1h-3zM1054 533h3v1h-3zM1060 533h3v1h-3zM1066 533h3v1h-3zM1072 533h3v1h-3zM1078 533h3v1h-3zM1084 533h3v1h-3zM1090 533h3v1h-3zM1096 533h3v1h-3zM1102 533h3v1h-3zM1108 533h3v1h-3zM1114 533h3v1h-3zM1120 533h3v1h-3zM1126 533h3v1h-3zM1132 533h3v1h-3zM1138 533h3v1h-3zM1144 533h3v1h-3zM1150 533h3v1h-3zM1156 533h3v1h-3zM1162 533h3v1h-3zM1168 533h3v1h-3zM1174 533h3v1h-3zM1180 533h3v1h-3zM1186 533h3v1h-3zM1192 533h3v1h-3zM1198 533h3v1h-3zM1204 533h3v1h-3zM1210 533h3v1h-3zM1216 533h3v1h-3zM1222 533h3v1h-3zM1228 533h3v1h-3zM1234 533h3v1h-3zM1240 533h3v1h-3zM1246 533h3v1h-3zM1252 533h3v1h-3zM1258 533h3v1h-3zM1264 533h3v1h-3zM1270 533h3v1h-3zM1276 533h3v1h-3zM1282 533h3v1h-3zM1288 533h3v1h-3zM1294 533h3v1h-3zM1300 533h3v1h-3zM1306 533h3v1h-3zM1312 533h3v1h-3zM1318 533h3v1h-3zM1324 533h3v1h-3zM1330 533h3v1h-3zM1336 533h3v1h-3zM1342 533h3v1h-3zM1348 533h3v1h-3zM1354 533h3v1h-3zM1360 533h3v1h-3zM1366 533h3v1h-3zM1372 533h3v1h-3zM1378 533h3v1h-3zM1384 533h3v1h-3zM1390 533h3v1h-3zM1396 533h3v1h-3zM1402 533h3v1h-3zM1408 533h3v1h-3zM1414 533h3v1h-3zM1420 533h3v1h-3zM1426 533h3v1h-3zM1432 533h3v1h-3zM1438 533h3v1h-3zM1444 533h3v1h-3zM1450 533h3v1h-3zM1456 533h3v1h-3zM1462 533h3v1h-3zM1468 533h3v1h-3zM1474 533h3v1h-3zM1480 533h3v1h-3zM1486 533h3v1h-3zM1492 533h3v1h-3zM10 567h3v1h-3zM16 567h3v1h-3zM22 567h3v1h-3zM28 567h3v1h-3zM34 567h3v1h-3zM40 567h3v1h-3zM46 567h3v1h-3zM52 567h3v1h-3zM58 567h3v1h-3zM64 567h3v1h-3zM70 567h3v1h-3zM76 567h3v1h-3zM82 567h3v1h-3zM88 567h3v1h-3zM94 567h3v1h-3zM100 567h3v1h-3zM106 567h3v1h-3zM112 567h3v1h-3zM118 567h3v1h-3zM124 567h3v1h-3zM130 567h3v1h-3zM136 567h3v1h-3zM142 567h3v1h-3zM148 567h3v1h-3zM154 567h3v1h-3zM160 567h3v1h-3zM166 567h3v1h-3zM172 567h3v1h-3zM178 567h3v1h-3zM184 567h3v1h-3zM190 567h3v1h-3zM196 567h3v1h-3zM202 567h3v1h-3zM208 567h3v1h-3zM214 567h3v1h-3zM220 567h3v1h-3zM226 567h3v1h-3zM232 567h3v1h-3zM238 567h3v1h-3zM244 567h3v1h-3zM250 567h3v1h-3zM256 567h3v1h-3zM262 567h3v1h-3zM268 567h3v1h-3zM274 567h3v1h-3zM280 567h3v1h-3zM286 567h3v1h-3zM292 567h3v1h-3zM298 567h3v1h-3zM304 567h3v1h-3zM310 567h3v1h-3zM316 567h3v1h-3zM322 567h3v1h-3zM328 567h3v1h-3zM334 567h3v1h-3zM340 567h3v1h-3zM346 567h3v1h-3zM352 567h3v1h-3zM358 567h3v1h-3zM364 567h3v1h-3zM370 567h3v1h-3zM376 567h3v1h-3zM382 567h3v1h-3zM388 567h3v1h-3zM394 567h3v1h-3zM400 567h3v1h-3zM406 567h3v1h-3zM412 567h3v1h-3zM418 567h3v1h-3zM424 567h3v1h-3zM430 567h3v1h-3zM436 567h3v1h-3zM442 567h3v1h-3zM448 567h3v1h-3zM454 567h3v1h-3zM460 567h3v1h-3zM466 567h3v1h-3zM472 567h3v1h-3zM478 567h3v1h-3zM484 567h3v1h-3zM490 567h3v1h-3zM496 567h3v1h-3zM502 567h3v1h-3zM508 567h3v1h-3zM514 567h3v1h-3zM520 567h3v1h-3zM526 567h3v1h-3zM532 567h3v1h-3zM538 567h3v1h-3zM544 567h3v1h-3zM550 567h3v1h-3zM556 567h3v1h-3zM562 567h3v1h-3zM568 567h3v1h-3zM574 567h3v1h-3zM580 567h3v1h-3zM586 567h3v1h-3zM592 567h3v1h-3zM598 567h3v1h-3zM604 567h3v1h-3zM610 567h3v1h-3zM616 567h3v1h-3zM622 567h3v1h-3zM628 567h3v1h-3zM634 567h3v1h-3zM640 567h3v1h-3zM646 567h3v1h-3zM652 567h3v1h-3zM658 567h3v1h-3zM664 567h3v1h-3zM670 567h3v1h-3zM676 567h3v1h-3zM682 567h3v1h-3zM688 567h3v1h-3zM694 567h3v1h-3zM700 567h3v1h-3zM706 567h3v1h-3zM712 567h3v1h-3zM718 567h3v1h-3zM724 567h3v1h-3zM730 567h3v1h-3zM736 567h3v1h-3zM742 567h3v1h-3zM748 567h3v1h-3zM754 567h3v1h-3zM760 567h3v1h-3zM766 567h3v1h-3zM772 567h3v1h-3zM778 567h3v1h-3zM784 567h3v1h-3zM790 567h3v1h-3zM796 567h3v1h-3zM802 567h3v1h-3zM808 567h3v1h-3zM814 567h3v1h-3zM820 567h3v1h-3zM826 567h3v1h-3zM832 567h3v1h-3zM838 567h3v1h-3zM844 567h3v1h-3zM850 567h3v1h-3zM856 567h3v1h-3zM862 567h3v1h-3zM868 567h3v1h-3zM874 567h3v1h-3zM880 567h3v1h-3zM886 567h3v1h-3zM892 567h3v1h-3zM898 567h3v1h-3zM904 567h3v1h-3zM910 567h3v1h-3zM916 567h3v1h-3zM922 567h3v1h-3zM928 567h3v1h-3zM934 567h3v1h-3zM940 567h3v1h-3zM946 567h3v1h-3zM952 567h3v1h-3zM958 567h3v1h-3zM964 567h3v1h-3zM970 567h3v1h-3zM976 567h3v1h-3zM982 567h3v1h-3zM988 567h3v1h-3zM994 567h3v1h-3zM1000 567h3v1h-3zM1006 567h3v1h-3zM1012 567h3v1h-3zM1018 567h3v1h-3zM1024 567h3v1h-3zM1030 567h3v1h-3zM1036 567h3v1h-3zM1042 567h3v1h-3zM1048 567h3v1h-3zM1054 567h3v1h-3zM1060 567h3v1h-3zM1066 567h3v1h-3zM1072 567h3v1h-3zM1078 567h3v1h-3zM1084 567h3v1h-3zM1090 567h3v1h-3zM1096 567h3v1h-3zM1102 567h3v1h-3zM1108 567h3v1h-3zM1114 567h3v1h-3zM1120 567h3v1h-3zM1126 567h3v1h-3zM1132 567h3v1h-3zM1138 567h3v1h-3zM1144 567h3v1h-3zM1150 567h3v1h-3zM1156 567h3v1h-3zM1162 567h3v1h-3zM1168 567h3v1h-3zM1174 567h3v1h-3zM1180 567h3v1h-3zM1186 567h3v1h-3zM1192 567h3v1h-3zM1198 567h3v1h-3zM1204 567h3v1h-3zM1210 567h3v1h-3zM1216 567h3v1h-3zM1222 567h3v1h-3zM1228 567h3v1h-3zM1234 567h3v1h-3zM1240 567h3v1h-3zM1246 567h3v1h-3zM1252 567h3v1h-3zM1258 567h3v1h-3zM1264 567h3v1h-3zM1270 567h3v1h-3zM1276 567h3v1h-3zM1282 567h3v1h-3zM1288 567h3v1h-3zM1294 567h3v1h-3zM1300 567h3v1h-3zM1306 567h3v1h-3zM1312 567h3v1h-3zM1318 567h3v1h-3zM1324 567h3v1h-3zM1330 567h3v1h-3zM1336 567h3v1h-3zM1342 567h3v1h-3zM1348 567h3v1h-3zM1354 567h3v1h-3zM1360 567h3v1h-3zM1366 567h3v1h-3zM1372 567h3v1h-3zM1378 567h3v1h-3zM1384 567h3v1h-3zM1390 567h3v1h-3zM1396 567h3v1h-3zM1402 567h3v1h-3zM1408 567h3v1h-3zM1414 567h3v1h-3zM1420 567h3v1h-3zM1426 567h3v1h-3zM1432 567h3v1h-3zM1438 567h3v1h-3zM1444 567h3v1h-3zM1450 567h3v1h-3zM1456 567h3v1h-3zM1462 567h3v1h-3zM1468 567h3v1h-3zM1474 567h3v1h-3zM1480 567h3v1h-3zM1486 567h3v1h-3zM1492 567h3v1h-3z"/><path fill="#c0c0c0" d="M9 649h1v2h-1zM13 649h1v3h-1zM17 649h1v3h-1zM21 649h1v4h-1zM25 649h1v4h-1zM29 649h1v5h-1zM33 649h1v6h-1zM37 649h1v5h-1zM41 649h1v5h-1zM45 649h1v4h-1zM49 649h1v3h-1zM53 649h1v3h-1zM57 649h1v2h-1zM61 649h1v2h-1zM65 649h1v2h-1zM69 649h1v2h-1zM73 649h1v2h-1zM77 649h1v2h-1zM81 649h1v2h-1zM85 649h1v2h-1zM89 649h1v2h-1zM93 649h1v1h-1zM97 649h1v1h-1zM101 649h1v1h-1zM105 649h1v1h-1zM109 649h1v1h-1zM113 649h1v1h-1zM117 649h1v1h-1zM121 649h1v1h-1zM125 649h1v1h-1zM129 649h1v1h-1zM133 649h1v1h-1zM137 649h1v1h-1zM141 647h1v2h-1zM145 642h1v7h-1zM149 637h1v12h-1zM153 626h1v23h-1zM157 620h1v29h-1zM161 613h1v36h-1zM165 610h1v39h-1zM169 606h1v43h-1zM173 603h1v46h-1zM177 601h1v48h-1zM181 606h1v43h-1zM185 609h1v40h-1zM189 610h1v39h-1zM193 612h1v37h-1zM197 614h1v35h-1zM201 615h1v34h-1zM205 616h1v33h-1zM209 617h1v32h-1zM213 617h1v32h-1zM217 614h1v35h-1zM221 612h1v37h-1zM225 609h1v40h-1zM229 607h1v42h-1zM233 606h1v43h-1zM237 606h1v43h-1zM241 607h1v42h-1zM245 607h1v42h-1zM249 606h1v43h-1zM253 606h1v43h-1zM257 610h1v39h-1zM261 613h1v36h-1zM265 618h1v31h-1zM269 623h1v26h-1zM273 626h1v23h-1zM277 629h1v20h-1zM281 632h1v17h-1zM285 637h1v12h-1zM289 644h1v5h-1zM293 648h1v1h-1zM297 648h1v1h-1zM301 649h1v1h-1zM305 649h1v1h-1zM309 649h1v1h-1zM313 649h1v1h-1zM317 647h1v2h-1zM321 646h1v3h-1zM325 645h1v4h-1zM329 644h1v5h-1zM333 642h1v7h-1zM337 641h1v8h-1zM341 639h1v10h-1zM345 638h1v11h-1zM349 637h1v12h-1zM353 637h1v12h-1zM357 637h1v12h-1zM361 638h1v11h-1zM365 640h1v9h-1zM369 640h1v9h-1zM373 639h1v10h-1zM377 638h1v11h-1zM381 643h1v6h-1zM385 646h1v3h-1zM389 649h1v1h-1zM393 649h1v2h-1zM397 649h1v3h-1zM401 649h1v3h-1zM405 649h1v5h-1zM409 649h1v5h-1zM413 649h1v5h-1zM417 649h1v7h-1zM421 649h1v8h-1zM425 649h1v9h-1zM429 649h1v9h-1zM433 649h1v10h-1zM437 649h1v11h-1zM441 649h1v10h-1zM445 649h1v9h-1zM449 649h1v9h-1zM453 649h1v11h-1zM457 649h1v11h-1zM461 649h1v12h-1zM465 649h1v13h-1zM469 649h1v16h-1zM473 649h1v17h-1zM477 649h1v20h-1zM481 649h1v21h-1zM485 649h1v22h-1zM489 649h1v20h-1zM493 649h1v19h-1zM497 649h1v17h-1zM501 649h1v15h-1zM505 649h1v15h-1zM509 649h1v14h-1zM513 649h1v13h-1zM517 649h1v11h-1zM521 649h1v9h-1zM525 649h1v7h-1zM529 649h1v5h-1zM533 649h1v3h-1zM537 649h1v3h-1zM541 649h1v3h-1zM545 649h1v3h-1zM549 649h1v3h-1zM553 649h1v2h-1zM557 649h1v2h-1zM561 649h1v1h-1zM565 647h1v2h-1zM569 647h1v2h-1zM573 647h1v2h-1zM577 648h1v1h-1zM581 648h1v1h-1zM585 649h1v1h-1zM589 649h1v1h-1zM593 649h1v1h-1zM597 649h1v3h-1zM601 649h1v4h-1zM605 649h1v6h-1zM609 649h1v6h-1zM613 649h1v7h-1zM617 649h1v7h-1zM621 649h1v7h-1zM625 649h1v6h-1zM629 649h1v6h-1zM633 649h1v6h-1zM637 649h1v6h-1zM641 649h1v6h-1zM645 649h1v7h-1zM649 649h1v7h-1zM653 649h1v8h-1zM657 649h1v9h-1zM661 649h1v10h-1zM665 649h1v11h-1zM669 649h1v12h-1zM673 649h1v13h-1zM677 649h1v13h-1zM681 649h1v13h-1zM685 649h1v14h-1zM689 649h1v14h-1zM693 649h1v16h-1zM697 649h1v18h-1zM701 649h1v19h-1zM705 649h1v21h-1zM709 649h1v23h-1zM713 649h1v24h-1zM717 649h1v25h-1zM721 649h1v27h-1zM725 649h1v27h-1zM729 649h1v28h-1zM733 649h1v26h-1zM737 649h1v23h-1zM741 649h1v18h-1zM745 649h1v15h-1zM749 649h1v12h-1zM753 649h1v6h-1zM757 649h1v2h-1zM761 648h1v1h-1zM765 645h1v4h-1zM769 643h1v6h-1zM773 640h1v9h-1zM777 637h1v12h-1zM781 636h1v13h-1zM785 637h1v12h-1zM789 638h1v11h-1zM793 637h1v12h-1zM797 636h1v13h-1zM801 637h1v12h-1zM805 639h1v10h-1zM809 640h1v9h-1zM813 640h1v9h-1zM817 640h1v9h-1zM821 639h1v10h-1zM825 640h1v9h-1zM829 639h1v10h-1zM833 638h1v11h-1zM837 636h1v13h-1zM841 635h1v14h-1zM845 634h1v15h-1zM849 633h1v16h-1zM853 633h1v16h-1zM857 634h1v15h-1zM861 635h1v14h-1zM865 638h1v11h-1zM869 641h1v8h-1zM873 645h1v4h-1zM877 649h1v1h-1zM881 649h1v4h-1zM885 649h1v6h-1zM889 649h1v8h-1zM893 649h1v10h-1zM897 649h1v10h-1zM901 649h1v9h-1zM905 649h1v8h-1zM909 649h1v1h-1zM913 648h1v1h-1zM917 645h1v4h-1zM921 645h1v4h-1zM925 642h1v7h-1zM929 637h1v12h-1zM933 629h1v20h-1zM937 623h1v26h-1zM941 619h1v30h-1zM945 617h1v32h-1zM949 619h1v30h-1zM953 617h1v32h-1zM957 619h1v30h-1zM961 619h1v30h-1zM965 621h1v28h-1zM969 621h1v28h-1zM973 624h1v25h-1zM977 624h1v25h-1zM981 626h1v23h-1zM985 626h1v23h-1zM989 626h1v23h-1zM993 628h1v21h-1zM997 633h1v16h-1zM1001 635h1v14h-1zM1005 639h1v10h-1zM1009 642h1v7h-1zM1013 645h1v4h-1zM1017 646h1v3h-1zM1021 648h1v1h-1zM1025 648h1v1h-1zM1029 648h1v1h-1zM1033 646h1v3h-1zM1037 646h1v3h-1zM1041 645h1v4h-1zM1045 645h1v4h-1zM1049 643h1v6h-1zM1053 643h1v6h-1zM1057 643h1v6h-1zM1061 642h1v7h-1zM1065 642h1v7h-1zM1069 643h1v6h-1zM1073 644h1v5h-1zM1077 645h1v4h-1zM1081 643h1v6h-1zM1085 639h1v10h-1zM1089 638h1v11h-1zM1093 638h1v11h-1zM1097 637h1v12h-1zM1101 639h1v10h-1zM1105 642h1v7h-1zM1109 642h1v7h-1zM1113 642h1v7h-1zM1117 643h1v6h-1zM1121 643h1v6h-1zM1125 642h1v7h-1zM1129 640h1v9h-1zM1133 640h1v9h-1zM1137 641h1v8h-1zM1141 642h1v7h-1zM1145 643h1v6h-1zM1149 643h1v6h-1zM1153 640h1v9h-1zM1157 639h1v10h-1zM1161 638h1v11h-1zM1165 638h1v11h-1zM1169 635h1v14h-1zM1173 635h1v14h-1zM1177 634h1v15h-1zM1181 635h1v14h-1zM1185 636h1v13h-1z"/></g><path fill="#1e90ff" shape-rendering="crispEdges" d="M153 518h1v2h-1zM152 519h1v2h-1zM154 520h1v2h-1zM151 521h1v1h-1zM150 522h1v2h-1zM155 522h1v2h-1zM149 524h1v1h-1zM156 524h1v2h-1zM147 525h2v1h-2zM145 526h2v1h-2zM157 526h5v1h-5zM145 527h1v1h-1zM162 527h1v1h-1zM169 527h3v1h-3zM144 528h1v3h-1zM163 528h1v1h-1zM168 528h1v1h-1zM172 528h4v1h-4zM164 529h1v1h-1zM166 529h2v1h-2zM176 529h2v1h-2zM225 529h3v1h-3zM165 530h1v1h-1zM177 530h1v1h-1zM224 530h1v1h-1zM228 530h6v1h-6zM933 530h1v1h-1zM143 531h1v4h-1zM178 531h1v4h-1zM222 531h2v1h-2zM234 531h1v1h-1zM248 531h2v1h-2zM932 531h1v2h-1zM934 531h2v1h-2zM220 532h2v1h-2zM235 532h1v1h-1zM245 532h3v1h-3zM250 532h2v1h-2zM936 532h1v1h-1zM217 533h3v1h-3zM236 533h1v1h-1zM243 533h2v1h-2zM252 533h1v1h-1zM931 533h1v1h-1zM937 533h6v1h-6zM216 534h1v1h-1zM237 534h6v1h-6zM253 534h1v1h-1zM930 534h1v2h-1zM943 534h2v1h-2zM1169 534h1v2h-1zM142 535h1v3h-1zM179 535h1v3h-1zM215 535h1v1h-1zM254 535h1v2h-1zM777 535h1v1h-1zM945 535h1v2h-1zM1168 535h1v2h-1zM214 536h1v1h-1zM776 536h1v1h-1zM778 536h1v2h-1zM929 536h1v1h-1zM1170 536h1v2h-1zM213 537h1v1h-1zM255 537h1v2h-1zM753 537h1v2h-1zM765 537h7v1h-7zM774 537h2v1h-2zM837 537h7v1h-7zM928 537h1v2h-1zM946 537h1v2h-1zM953 537h1v1h-1zM1167 537h1v2h-1zM141 538h1v2h-1zM180 538h1v4h-1zM205 538h2v1h-2zM212 538h1v1h-1zM565 538h1v2h-1zM754 538h2v1h-2zM764 538h1v1h-1zM772 538h2v1h-2zM779 538h1v2h-1zM836 538h1v1h-1zM844 538h3v1h-3zM952 538h1v2h-1zM954 538h1v2h-1zM1171 538h1v2h-1zM203 539h2v1h-2zM207 539h2v1h-2zM210 539h2v1h-2zM256 539h1v2h-1zM564 539h1v2h-1zM752 539h1v3h-1zM756 539h1v1h-1zM763 539h1v2h-1zM835 539h1v2h-1zM847 539h2v1h-2zM909 539h2v1h-2zM927 539h1v1h-1zM947 539h1v2h-1zM1084 539h3v1h-3zM1166 539h1v2h-1zM140 540h1v2h-1zM201 540h2v1h-2zM209 540h1v1h-1zM340 540h4v1h-4zM348 540h6v1h-6zM566 540h1v2h-1zM757 540h2v1h-2zM780 540h1v2h-1zM796 540h2v1h-2zM849 540h2v1h-2zM909 540h1v1h-1zM911 540h2v1h-2zM926 540h1v2h-1zM951 540h1v1h-1zM955 540h1v2h-1zM1081 540h3v1h-3zM1087 540h2v1h-2zM1172 540h1v2h-1zM185 541h11v1h-11zM199 541h2v1h-2zM257 541h2v1h-2zM336 541h4v1h-4zM344 541h4v1h-4zM354 541h1v2h-1zM373 541h1v1h-1zM563 541h1v2h-1zM759 541h2v1h-2zM762 541h1v1h-1zM793 541h3v1h-3zM798 541h1v1h-1zM834 541h1v1h-1zM851 541h2v1h-2zM856 541h2v1h-2zM908 541h1v4h-1zM913 541h5v1h-5zM948 541h1v2h-1zM950 541h1v2h-1zM1081 541h1v1h-1zM1089 541h1v1h-1zM1153 541h13v1h-13zM139 542h1v2h-1zM181 542h1v2h-1zM183 542h2v1h-2zM196 542h3v1h-3zM259 542h2v1h-2zM332 542h4v1h-4zM372 542h1v1h-1zM374 542h1v1h-1zM567 542h1v2h-1zM751 542h1v3h-1zM761 542h1v1h-1zM781 542h1v1h-1zM792 542h1v1h-1zM799 542h1v2h-1zM833 542h1v1h-1zM853 542h3v1h-3zM858 542h1v2h-1zM918 542h1v2h-1zM925 542h1v1h-1zM956 542h1v2h-1zM969 542h1v1h-1zM1080 542h1v3h-1zM1090 542h2v1h-2zM1097 542h1v1h-1zM1129 542h3v1h-3zM1152 542h1v1h-1zM1173 542h6v1h-6zM182 543h1v1h-1zM261 543h1v1h-1zM329 543h3v1h-3zM355 543h1v1h-1zM371 543h1v2h-1zM375 543h1v1h-1zM562 543h1v2h-1zM782 543h1v1h-1zM791 543h1v2h-1zM831 543h2v1h-2zM924 543h1v2h-1zM949 543h1v1h-1zM960 543h4v1h-4zM967 543h2v1h-2zM970 543h1v1h-1zM1092 543h1v1h-1zM1095 543h2v1h-2zM1098 543h1v2h-1zM1128 543h1v1h-1zM1132 543h3v1h-3zM1151 543h1v2h-1zM1179 543h2v1h-2zM138 544h1v2h-1zM262 544h1v1h-1zM328 544h1v1h-1zM356 544h1v2h-1zM376 544h1v1h-1zM568 544h1v2h-1zM783 544h1v2h-1zM800 544h1v1h-1zM817 544h3v1h-3zM829 544h2v1h-2zM859 544h1v2h-1zM919 544h1v2h-1zM957 544h3v1h-3zM964 544h3v1h-3zM971 544h1v2h-1zM977 544h1v1h-1zM985 544h5v1h-5zM1045 544h5v1h-5zM1093 544h2v1h-2zM1126 544h2v1h-2zM1135 544h2v1h-2zM1181 544h1v1h-1zM129 545h3v1h-3zM263 545h1v2h-1zM326 545h2v1h-2zM370 545h1v1h-1zM377 545h1v2h-1zM561 545h1v2h-1zM750 545h1v3h-1zM790 545h1v1h-1zM801 545h1v1h-1zM815 545h2v1h-2zM820 545h3v1h-3zM828 545h1v1h-1zM907 545h1v3h-1zM923 545h1v1h-1zM976 545h1v1h-1zM978 545h2v1h-2zM984 545h1v1h-1zM990 545h2v1h-2zM1044 545h1v1h-1zM1050 545h1v1h-1zM1079 545h1v3h-1zM1099 545h1v2h-1zM1125 545h1v1h-1zM1137 545h1v1h-1zM1150 545h1v1h-1zM1182 545h1v1h-1zM128 546h1v1h-1zM132 546h6v1h-6zM317 546h9v1h-9zM357 546h1v1h-1zM369 546h1v1h-1zM529 546h3v1h-3zM569 546h1v1h-1zM784 546h1v1h-1zM788 546h2v1h-2zM802 546h1v1h-1zM813 546h2v1h-2zM823 546h2v1h-2zM826 546h2v1h-2zM860 546h1v2h-1zM920 546h1v2h-1zM922 546h1v2h-1zM972 546h1v1h-1zM974 546h2v1h-2zM980 546h1v1h-1zM982 546h2v1h-2zM992 546h1v1h-1zM1043 546h1v1h-1zM1051 546h1v1h-1zM1057 546h10v1h-10zM1123 546h2v1h-2zM1138 546h2v1h-2zM1149 546h1v1h-1zM1183 546h1v2h-1zM49 547h3v1h-3zM127 547h1v2h-1zM264 547h1v1h-1zM273 547h3v1h-3zM316 547h1v1h-1zM358 547h1v1h-1zM368 547h1v1h-1zM378 547h1v2h-1zM528 547h1v1h-1zM532 547h2v1h-2zM560 547h1v1h-1zM570 547h2v1h-2zM785 547h3v1h-3zM803 547h1v2h-1zM811 547h2v1h-2zM825 547h1v1h-1zM973 547h1v1h-1zM981 547h1v1h-1zM993 547h1v1h-1zM1028 547h4v1h-4zM1042 547h1v1h-1zM1052 547h1v1h-1zM1055 547h2v1h-2zM1067 547h2v1h-2zM1100 547h1v2h-1zM1113 547h2v1h-2zM1121 547h2v1h-2zM1140 547h1v1h-1zM1148 547h1v1h-1zM48 548h1v2h-1zM52 548h4v1h-4zM60 548h2v1h-2zM265 548h3v1h-3zM271 548h2v1h-2zM276 548h4v1h-4zM309 548h2v1h-2zM315 548h1v1h-1zM359 548h1v1h-1zM367 548h1v2h-1zM527 548h1v1h-1zM534 548h1v1h-1zM559 548h1v1h-1zM572 548h1v1h-1zM741 548h3v1h-3zM749 548h1v2h-1zM809 548h2v1h-2zM861 548h1v1h-1zM906 548h1v4h-1zM921 548h1v1h-1zM994 548h1v1h-1zM1025 548h3v1h-3zM1032 548h10v1h-10zM1053 548h2v1h-2zM1069 548h2v1h-2zM1078 548h1v3h-1zM1111 548h2v1h-2zM1115 548h2v1h-2zM1119 548h2v1h-2zM1141 548h2v1h-2zM1147 548h1v1h-1zM1184 548h1v1h-1zM56 549h4v1h-4zM62 549h1v2h-1zM109 549h1v1h-1zM126 549h1v1h-1zM268 549h3v1h-3zM280 549h2v1h-2zM308 549h1v1h-1zM311 549h2v1h-2zM314 549h1v1h-1zM360 549h1v1h-1zM379 549h1v2h-1zM521 549h3v1h-3zM526 549h1v1h-1zM535 549h1v1h-1zM558 549h1v1h-1zM573 549h1v1h-1zM740 549h1v2h-1zM744 549h5v1h-5zM804 549h1v1h-1zM807 549h2v1h-2zM862 549h1v1h-1zM995 549h1v2h-1zM1024 549h1v1h-1zM1071 549h2v1h-2zM1101 549h1v1h-1zM1109 549h2v1h-2zM1117 549h2v1h-2zM1143 549h2v1h-2zM1146 549h1v1h-1zM1185 549h1v1h-1zM47 550h1v1h-1zM96 550h4v1h-4zM107 550h2v1h-2zM110 550h1v1h-1zM121 550h5v1h-5zM281 550h1v1h-1zM307 550h1v1h-1zM313 550h1v1h-1zM361 550h3v1h-3zM366 550h1v1h-1zM519 550h2v1h-2zM524 550h2v1h-2zM536 550h1v1h-1zM549 550h3v1h-3zM556 550h2v1h-2zM574 550h2v1h-2zM585 550h2v1h-2zM805 550h2v1h-2zM863 550h1v1h-1zM1023 550h1v1h-1zM1073 550h2v1h-2zM1102 550h2v1h-2zM1108 550h1v1h-1zM1145 550h1v1h-1zM46 551h1v2h-1zM63 551h1v1h-1zM93 551h3v1h-3zM100 551h7v1h-7zM111 551h1v2h-1zM120 551h1v2h-1zM282 551h1v2h-1zM301 551h3v1h-3zM306 551h1v1h-1zM364 551h2v1h-2zM380 551h1v2h-1zM516 551h3v1h-3zM537 551h2v1h-2zM548 551h1v1h-1zM552 551h4v1h-4zM576 551h1v1h-1zM584 551h1v1h-1zM587 551h2v1h-2zM739 551h1v2h-1zM864 551h1v1h-1zM996 551h1v1h-1zM1000 551h3v1h-3zM1022 551h1v1h-1zM1075 551h3v1h-3zM1104 551h1v1h-1zM1106 551h2v1h-2zM37 552h7v1h-7zM64 552h1v2h-1zM73 552h6v1h-6zM85 552h2v1h-2zM92 552h1v1h-1zM300 552h1v1h-1zM304 552h2v1h-2zM401 552h1v1h-1zM513 552h3v1h-3zM539 552h2v1h-2zM547 552h1v1h-1zM577 552h3v1h-3zM582 552h2v1h-2zM589 552h5v1h-5zM633 552h3v1h-3zM865 552h3v1h-3zM905 552h1v2h-1zM997 552h3v1h-3zM1003 552h2v1h-2zM1016 552h6v1h-6zM1077 552h1v1h-1zM1105 552h1v1h-1zM36 553h1v2h-1zM44 553h2v1h-2zM72 553h1v1h-1zM79 553h2v1h-2zM83 553h2v1h-2zM87 553h2v1h-2zM90 553h2v1h-2zM112 553h1v1h-1zM119 553h1v1h-1zM283 553h1v2h-1zM298 553h2v1h-2zM381 553h1v1h-1zM400 553h1v1h-1zM402 553h1v1h-1zM512 553h1v2h-1zM541 553h3v1h-3zM546 553h1v1h-1zM580 553h2v1h-2zM593 553h1v1h-1zM631 553h2v1h-2zM636 553h4v1h-4zM738 553h1v2h-1zM868 553h2v1h-2zM901 553h4v1h-4zM1005 553h11v1h-11zM65 554h3v1h-3zM70 554h2v1h-2zM81 554h2v1h-2zM89 554h1v1h-1zM113 554h2v1h-2zM118 554h1v2h-1zM297 554h1v1h-1zM382 554h1v1h-1zM398 554h2v1h-2zM403 554h1v1h-1zM497 554h5v1h-5zM544 554h2v1h-2zM594 554h1v3h-1zM628 554h3v1h-3zM640 554h2v1h-2zM870 554h1v1h-1zM900 554h1v1h-1zM13 555h7v1h-7zM35 555h1v2h-1zM68 555h2v1h-2zM115 555h2v1h-2zM284 555h1v2h-1zM296 555h1v1h-1zM383 555h1v1h-1zM397 555h1v1h-1zM404 555h1v1h-1zM496 555h1v1h-1zM502 555h1v2h-1zM511 555h1v2h-1zM601 555h3v1h-3zM617 555h11v1h-11zM642 555h1v1h-1zM737 555h1v1h-1zM871 555h1v1h-1zM898 555h2v1h-2zM12 556h1v1h-1zM20 556h4v1h-4zM117 556h1v1h-1zM295 556h1v2h-1zM384 556h1v1h-1zM396 556h1v1h-1zM405 556h7v1h-7zM495 556h1v2h-1zM600 556h1v2h-1zM604 556h3v1h-3zM616 556h1v1h-1zM643 556h1v1h-1zM649 556h3v1h-3zM735 556h2v1h-2zM872 556h1v1h-1zM897 556h1v1h-1zM10 557h2v1h-2zM24 557h4v1h-4zM34 557h1v2h-1zM285 557h1v1h-1zM385 557h3v1h-3zM395 557h1v1h-1zM412 557h11v1h-11zM429 557h1v1h-1zM441 557h6v1h-6zM503 557h1v1h-1zM510 557h1v2h-1zM595 557h1v2h-1zM607 557h2v1h-2zM614 557h2v1h-2zM644 557h1v1h-1zM647 557h2v1h-2zM652 557h2v1h-2zM733 557h2v1h-2zM873 557h1v1h-1zM896 557h1v1h-1zM9 558h1v1h-1zM28 558h3v1h-3zM286 558h1v1h-1zM294 558h1v1h-1zM388 558h4v1h-4zM394 558h1v1h-1zM423 558h2v1h-2zM427 558h2v1h-2zM430 558h2v1h-2zM440 558h1v1h-1zM447 558h2v1h-2zM494 558h1v1h-1zM504 558h1v2h-1zM599 558h1v2h-1zM609 558h5v1h-5zM645 558h2v1h-2zM654 558h1v1h-1zM733 558h1v1h-1zM874 558h1v1h-1zM895 558h1v2h-1zM31 559h3v1h-3zM287 559h1v1h-1zM293 559h1v1h-1zM392 559h2v1h-2zM425 559h2v1h-2zM432 559h1v1h-1zM439 559h1v1h-1zM449 559h2v1h-2zM489 559h5v1h-5zM508 559h2v1h-2zM596 559h1v3h-1zM655 559h1v1h-1zM681 559h1v1h-1zM732 559h1v4h-1zM875 559h1v2h-1zM33 560h1v1h-1zM288 560h1v1h-1zM291 560h2v1h-2zM433 560h3v1h-3zM438 560h1v1h-1zM451 560h2v1h-2zM488 560h1v2h-1zM505 560h3v1h-3zM598 560h1v2h-1zM656 560h1v1h-1zM680 560h1v1h-1zM682 560h1v2h-1zM885 560h7v1h-7zM894 560h1v1h-1zM289 561h2v1h-2zM436 561h2v1h-2zM453 561h2v1h-2zM657 561h1v1h-1zM679 561h1v1h-1zM876 561h1v1h-1zM884 561h1v1h-1zM892 561h2v1h-2zM455 562h2v1h-2zM460 562h2v1h-2zM487 562h1v2h-1zM597 562h1v2h-1zM658 562h2v1h-2zM678 562h1v1h-1zM683 562h1v2h-1zM877 562h1v1h-1zM883 562h1v2h-1zM457 563h3v1h-3zM462 563h2v1h-2zM660 563h1v1h-1zM673 563h5v1h-5zM731 563h1v4h-1zM878 563h2v1h-2zM464 564h1v1h-1zM486 564h1v2h-1zM661 564h3v1h-3zM671 564h2v1h-2zM684 564h1v2h-1zM880 564h1v1h-1zM882 564h1v1h-1zM465 565h1v1h-1zM664 565h7v1h-7zM881 565h1v1h-1zM466 566h1v1h-1zM481 566h5v1h-5zM685 566h5v1h-5zM467 567h1v1h-1zM480 567h1v2h-1zM690 567h1v1h-1zM730 567h1v4h-1zM468 568h1v1h-1zM691 568h1v1h-1zM469 569h3v1h-3zM479 569h1v2h-1zM692 569h1v1h-1zM472 570h2v1h-2zM693 570h2v1h-2zM474 571h2v1h-2zM478 571h1v2h-1zM695 571h2v1h-2zM729 571h1v2h-1zM476 572h1v1h-1zM697 572h5v1h-5zM713 572h2v1h-2zM477 573h1v1h-1zM702 573h1v1h-1zM712 573h1v1h-1zM715 573h2v1h-2zM728 573h1v1h-1zM703 574h1v1h-1zM711 574h1v1h-1zM717 574h2v1h-2zM727 574h1v1h-1zM704 575h1v1h-1zM710 575h1v1h-1zM719 575h2v1h-2zM726 575h1v1h-1zM705 576h5v1h-5zM721 576h5v1h-5z"/><path fill="#ff0000" shape-rendering="crispEdges" d="M252 606h2v1h-2zM257 606h3v1h-3zM191 607h3v1h-3zM197 607h3v1h-3zM203 607h3v1h-3zM251 607h1v1h-1zM263 607h1v1h-1zM187 608h1v1h-1zM245 608h3v1h-3zM264 608h2v1h-2zM185 609h2v1h-2zM209 609h1v1h-1zM240 609h2v1h-2zM210 610h2v1h-2zM239 610h1v1h-1zM269 610h2v1h-2zM233 611h3v1h-3zM271 611h1v1h-1zM181 612h1v1h-1zM215 612h1v1h-1zM228 612h2v1h-2zM180 613h1v1h-1zM216 613h2v1h-2zM221 613h3v1h-3zM227 613h1v1h-1zM275 613h2v1h-2zM179 614h1v1h-1zM277 614h1v1h-1zM281 617h1v1h-1zM176 618h1v1h-1zM282 618h2v1h-2zM970 618h3v1h-3zM976 618h3v1h-3zM175 619h1v1h-1zM965 619h2v1h-2zM174 620h1v1h-1zM964 620h1v1h-1zM982 620h2v1h-2zM984 621h1v1h-1zM988 621h3v1h-3zM287 622h1v1h-1zM960 622h1v1h-1zM288 623h1v1h-1zM958 623h2v1h-2zM994 623h2v1h-2zM171 624h1v2h-1zM289 624h1v1h-1zM996 624h1v1h-1zM1000 625h1v1h-1zM170 626h1v1h-1zM954 626h1v1h-1zM1001 626h2v1h-2zM953 627h1v1h-1zM293 628h1v1h-1zM952 628h1v1h-1zM1006 628h2v1h-2zM294 629h1v1h-1zM1008 629h1v1h-1zM166 630h1v1h-1zM295 630h1v1h-1zM165 631h1v1h-1zM948 631h1v1h-1zM1012 631h1v1h-1zM164 632h1v1h-1zM946 632h2v1h-2zM1013 632h2v1h-2zM298 634h1v1h-1zM862 634h3v1h-3zM868 634h3v1h-3zM299 635h1v1h-1zM852 635h1v1h-1zM856 635h3v1h-3zM1018 635h2v1h-2zM161 636h1v1h-1zM300 636h1v1h-1zM802 636h3v1h-3zM808 636h3v1h-3zM814 636h2v1h-2zM850 636h2v1h-2zM874 636h3v1h-3zM942 636h1v1h-1zM1020 636h1v1h-1zM1180 636h3v1h-3zM160 637h1v1h-1zM797 637h2v1h-2zM816 637h1v1h-1zM820 637h3v1h-3zM844 637h3v1h-3zM880 637h1v1h-1zM941 637h1v1h-1zM1174 637h3v1h-3zM159 638h1v1h-1zM358 638h3v1h-3zM364 638h3v1h-3zM370 638h3v1h-3zM376 638h3v1h-3zM382 638h1v1h-1zM796 638h1v1h-1zM826 638h3v1h-3zM832 638h3v1h-3zM838 638h3v1h-3zM881 638h1v1h-1zM940 638h1v1h-1zM1168 638h3v1h-3zM9 639h1v1h-1zM304 639h1v1h-1zM383 639h2v1h-2zM792 639h1v1h-1zM882 639h1v1h-1zM1024 639h1v1h-1zM1104 639h1v1h-1zM1108 639h3v1h-3zM1114 639h3v1h-3zM1120 639h3v1h-3zM1162 639h3v1h-3zM10 640h2v1h-2zM305 640h1v1h-1zM352 640h3v1h-3zM790 640h2v1h-2zM1025 640h2v1h-2zM1092 640h1v1h-1zM1096 640h3v1h-3zM1102 640h2v1h-2zM1126 640h3v1h-3zM1132 640h3v1h-3zM1156 640h3v1h-3zM306 641h1v1h-1zM348 641h1v1h-1zM388 641h3v1h-3zM1084 641h3v1h-3zM1090 641h2v1h-2zM1138 641h3v1h-3zM1144 641h3v1h-3zM1150 641h3v1h-3zM154 642h2v1h-2zM346 642h2v1h-2zM394 642h1v1h-1zM786 642h1v1h-1zM886 642h1v1h-1zM936 642h1v1h-1zM1030 642h2v1h-2zM1072 642h3v1h-3zM1078 642h3v1h-3zM15 643h2v1h-2zM153 643h1v1h-1zM310 643h1v1h-1zM341 643h2v1h-2zM395 643h2v1h-2zM785 643h1v1h-1zM887 643h1v1h-1zM935 643h1v1h-1zM1032 643h1v1h-1zM1060 643h3v1h-3zM1066 643h3v1h-3zM17 644h1v1h-1zM311 644h2v1h-2zM340 644h1v1h-1zM784 644h1v1h-1zM888 644h1v1h-1zM934 644h1v1h-1zM1036 644h3v1h-3zM1042 644h2v1h-2zM1054 644h3v1h-3zM149 645h1v1h-1zM336 645h1v1h-1zM400 645h3v1h-3zM1044 645h1v1h-1zM1048 645h3v1h-3zM147 646h2v1h-2zM316 646h1v1h-1zM334 646h2v1h-2zM406 646h1v1h-1zM21 647h2v1h-2zM317 647h2v1h-2zM324 647h1v1h-1zM328 647h3v1h-3zM407 647h2v1h-2zM588 647h1v1h-1zM592 647h3v1h-3zM598 647h2v1h-2zM780 647h1v1h-1zM892 647h1v1h-1zM930 647h1v1h-1zM23 648h1v1h-1zM143 648h1v1h-1zM322 648h2v1h-2zM580 648h3v1h-3zM586 648h2v1h-2zM600 648h1v1h-1zM778 648h2v1h-2zM893 648h2v1h-2zM929 648h1v1h-1zM27 649h1v1h-1zM135 649h3v1h-3zM141 649h2v1h-2zM412 649h1v1h-1zM574 649h3v1h-3zM604 649h3v1h-3zM928 649h1v1h-1zM28 650h2v1h-2zM112 650h2v1h-2zM117 650h3v1h-3zM123 650h3v1h-3zM129 650h3v1h-3zM413 650h2v1h-2zM568 650h3v1h-3zM610 650h2v1h-2zM33 651h3v1h-3zM75 651h3v1h-3zM81 651h3v1h-3zM87 651h3v1h-3zM93 651h3v1h-3zM99 651h3v1h-3zM105 651h3v1h-3zM111 651h1v1h-1zM562 651h3v1h-3zM612 651h1v1h-1zM774 651h1v1h-1zM898 651h2v1h-2zM924 651h1v1h-1zM39 652h1v1h-1zM57 652h3v1h-3zM63 652h3v1h-3zM69 652h3v1h-3zM418 652h2v1h-2zM556 652h3v1h-3zM616 652h3v1h-3zM773 652h1v1h-1zM900 652h1v1h-1zM922 652h2v1h-2zM40 653h2v1h-2zM45 653h3v1h-3zM51 653h3v1h-3zM420 653h1v1h-1zM550 653h3v1h-3zM622 653h2v1h-2zM772 653h1v1h-1zM424 654h3v1h-3zM624 654h1v1h-1zM904 654h3v1h-3zM916 654h3v1h-3zM430 655h2v1h-2zM544 655h3v1h-3zM628 655h3v1h-3zM910 655h3v1h-3zM432 656h1v1h-1zM540 656h1v1h-1zM634 656h3v1h-3zM640 656h3v1h-3zM646 656h3v1h-3zM652 656h3v1h-3zM658 656h3v1h-3zM664 656h3v1h-3zM436 657h3v1h-3zM538 657h2v1h-2zM670 657h2v1h-2zM768 657h1v1h-1zM442 658h3v1h-3zM448 658h3v1h-3zM672 658h1v1h-1zM676 658h3v1h-3zM767 658h1v1h-1zM454 659h3v1h-3zM533 659h2v1h-2zM682 659h2v1h-2zM766 659h1v1h-1zM460 660h3v1h-3zM466 660h2v1h-2zM532 660h1v1h-1zM684 660h1v1h-1zM688 660h3v1h-3zM468 661h1v1h-1zM528 661h1v1h-1zM694 661h2v1h-2zM472 662h3v1h-3zM526 662h2v1h-2zM696 662h1v1h-1zM762 662h1v1h-1zM478 663h2v1h-2zM700 663h3v1h-3zM761 663h1v1h-1zM480 664h1v1h-1zM520 664h3v1h-3zM706 664h2v1h-2zM760 664h1v1h-1zM484 665h3v1h-3zM516 665h1v1h-1zM708 665h1v1h-1zM490 666h2v1h-2zM514 666h2v1h-2zM712 666h3v1h-3zM756 666h1v1h-1zM492 667h1v1h-1zM496 667h3v1h-3zM508 667h3v1h-3zM754 667h2v1h-2zM502 668h3v1h-3zM718 668h1v1h-1zM719 669h2v1h-2zM749 670h2v1h-2zM724 671h3v1h-3zM748 671h1v1h-1zM744 672h1v1h-1zM730 673h3v1h-3zM736 673h3v1h-3zM742 673h2v1h-2z"/></svg>
<svg width="8" height="5" style="position:absolute;left:12px;top:35px"><path d="M0 0h7l-3.5 4z" fill="#000"/></svg>
<span class="t" style="left:24.3px;top:33px;font-size:10px;letter-spacing:0.38px">USDCNH,Daily</span>
<span class="t" style="left:95.6px;top:33px;font-size:10px">7.13731</span>
<span class="t" style="left:131.8px;top:33px;font-size:10px">7.14050</span>
<span class="t" style="left:168px;top:33px;font-size:10px">7.12463</span>
<span class="t" style="left:204.2px;top:33px;font-size:10px">7.12611</span>
<span class="t" style="left:13px;top:512px;font-size:10px">RSI(14) 49.5299</span>
<span class="t" style="left:13px;top:601px;font-size:10px;transform:scaleX(.932)">MACD(12,26,9) 0.014088 0.014376</span>
<span class="t ax" style="top:36px">7.20570</span>
<span class="t ax" style="top:69px">7.17850</span>
<span class="t ax" style="top:102px">7.15130</span>
<span class="t ax" style="top:135px">7.12410</span>
<span class="t ax" style="top:168px">7.09690</span>
<span class="t ax" style="top:201px">7.06970</span>
<span class="t ax" style="top:234px">7.04250</span>
<span class="t ax" style="top:267px">7.01530</span>
<span class="t ax" style="top:300px">6.98810</span>
<span class="t ax" style="top:333px">6.96090</span>
<span class="t ax" style="top:366px">6.93370</span>
<span class="t ax" style="top:399px">6.90650</span>
<span class="t ax" style="top:432px">6.87930</span>
<span class="t ax" style="top:465px">6.85290</span>
<span class="t ax" style="top:498px">6.82570</span>
<span class="t ax" style="top:510px;left:1497px">100</span>
<span class="t ax" style="top:530px;left:1497px">70</span>
<span class="t ax" style="top:564px;left:1497px">30</span>
<span class="t ax" style="top:583px;left:1497px">0</span>
<span class="t ax" style="top:599px;left:1497px;transform:scaleX(.957)">0.061119</span>
<span class="t ax" style="top:645px;left:1497px">0.00</span>
<span class="t ax" style="top:671px;left:1497px">-0.038777</span>
<div class="lb" style="top:38px;background:#ff0000"><span>7.20193</span></div>
<div class="lb" style="top:131px;background:#000"><span>7.12611</span></div>
<div class="lb" style="top:162px;background:#00ff00"><span>7.10011</span></div>
<div class="lb" style="top:283px;background:#0000ff"><span>7.00029</span></div>
<div class="lb" style="top:426px;background:#0000ff"><span>6.88250</span></div>
<span class="t dt" style="left:8px;transform:scaleX(0.919)">24 Jun 2019</span>
<span class="t dt" style="left:72px;transform:scaleX(0.917)">12 Jul 2019</span>
<span class="t dt" style="left:136px;transform:scaleX(0.911)">31 Jul 2019</span>
<span class="t dt" style="left:200px;transform:scaleX(0.945)">19 Aug 2019</span>
<span class="t dt" style="left:264px;transform:scaleX(0.923)">6 Sep 2019</span>
<span class="t dt" style="left:328px;transform:scaleX(0.913)">25 Sep 2019</span>
<span class="t dt" style="left:392px;transform:scaleX(0.938)">14 Oct 2019</span>
<span class="t dt" style="left:456px;transform:scaleX(0.962)">1 Nov 2019</span>
<span class="t dt" style="left:520px;transform:scaleX(0.956)">20 Nov 2019</span>
<span class="t dt" style="left:584px;transform:scaleX(0.911)">9 Dec 2019</span>
<span class="t dt" style="left:648px;transform:scaleX(0.914)">27 Dec 2019</span>
<span class="t dt" style="left:712px;transform:scaleX(0.914)">15 Jan 2020</span>
<span class="t dt" style="left:776px;transform:scaleX(0.923)">3 Feb 2020</span>
<span class="t dt" style="left:840px;transform:scaleX(0.919)">21 Feb 2020</span>
<span class="t dt" style="left:904px;transform:scaleX(0.933)">11 Mar 2020</span>
<span class="t dt" style="left:968px;transform:scaleX(0.930)">30 Mar 2020</span>
<span class="t dt" style="left:1032px;transform:scaleX(0.942)">17 Apr 2020</span>
<span class="t dt" style="left:1096px;transform:scaleX(0.947)">6 May 2020</span>
<span class="t dt" style="left:1160px;transform:scaleX(0.957)">25 May 2020</span>
<div style="position:absolute;left:6px;top:702px;width:1528px;height:22px;background:#f0f0f0"></div>
<div style="position:absolute;left:6px;top:702px;width:1528px;height:1px;background:#d8d8d8"></div>
<div style="position:absolute;left:4px;top:704px;width:1530px;height:1px;background:#000"></div>
<div style="position:absolute;left:422px;top:703px;width:104px;height:20px;background:#fff;border:1px solid #000;border-top:none;box-sizing:border-box"></div>
<span class="t tab" style="left:21.2px;transform:scaleX(1.011)">EURUSD,Daily</span>
<span class="t tab" style="left:123.8px;transform:scaleX(1.017)">USDCHF,Daily</span>
<span class="t tab" style="left:224.7px;transform:scaleX(1.023)">AUDUSD,Daily</span>
<span class="t tab" style="left:329.2px;transform:scaleX(1.018)">USDCAD,Daily</span>
<span class="t tab" style="left:537.2px;transform:scaleX(1.009)">EURUSD,Daily</span>
<span class="t tab" style="left:641.2px;transform:scaleX(1.006)">GBPUSD,Daily</span>
<span class="t tab" style="left:744.2px;transform:scaleX(1.022)">XAUUSD,H4</span>
<span class="t tab" style="left:836.7px;transform:scaleX(1.029)">HK50,H1</span>
<span class="t tab" style="left:908.7px;transform:scaleX(1.031)">UK100,H1</span>
<span class="t tab" style="left:988.9px;transform:scaleX(1.028)">UK100,H1</span>
<span class="t tab" style="left:1068.9px;transform:scaleX(0.989)">GER30,H1</span>
<span class="t tab" style="left:1147.2px;transform:scaleX(1.000)">FRA40,H1</span>
<span class="t tab" style="left:1223.7px;transform:scaleX(1.040)">USOil,Daily</span>
<span class="t tab" style="left:1307.7px;transform:scaleX(0.979)">USDJPY,H1</span>
<span class="t tab" style="left:1391.2px;transform:scaleX(1.020)">DJ30,H1</span>
<span class="t tab" style="left:431.2px;color:#000;transform:scaleX(1.036)">USDCNH,Daily</span>
<div class="sep" style="left:114px"></div>
<div class="sep" style="left:214px"></div>
<div class="sep" style="left:318px"></div>
<div class="sep" style="left:630px"></div>
<div class="sep" style="left:734px"></div>
<div class="sep" style="left:826px"></div>
<div class="sep" style="left:898px"></div>
<div class="sep" style="left:978px"></div>
<div class="sep" style="left:1058px"></div>
<div class="sep" style="left:1138px"></div>
<div class="sep" style="left:1214px"></div>
<div class="sep" style="left:1298px"></div>
<div class="sep" style="left:1382px"></div>
<div class="sep" style="left:1450px"></div>
<svg width="30" height="10" style="position:absolute;left:1506px;top:709px"><path d="M1.500 4.500l5.500-3.500v7zM26.300 4.500l-5.100-3.500v7z" fill="#9a9a9a"/></svg>
</body></html>
